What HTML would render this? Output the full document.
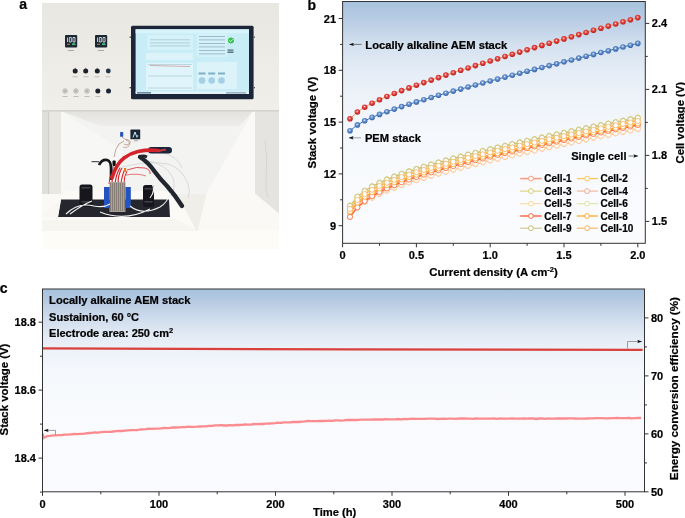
<!DOCTYPE html>
<html><head><meta charset="utf-8"><style>
html,body{margin:0;padding:0;background:#fff;}
body{width:685px;height:518px;overflow:hidden;font-family:"Liberation Sans",sans-serif;}
svg{display:block;will-change:transform;}
</style></head><body>
<svg width="685" height="518" viewBox="0 0 685 518">
<defs>
<linearGradient id="gb" x1="0" y1="0" x2="0" y2="1"><stop offset="0" stop-color="#a7c1dd"/><stop offset="0.05" stop-color="#b2c9e1"/><stop offset="0.1" stop-color="#bfd1e7"/><stop offset="0.18" stop-color="#d4e1ef"/><stop offset="0.28" stop-color="#e4ecf6"/><stop offset="0.4" stop-color="#eef3f9"/><stop offset="0.55" stop-color="#f5f8fc"/><stop offset="1" stop-color="#fbfcfe"/></linearGradient>
<linearGradient id="gc" x1="0" y1="0" x2="0" y2="1"><stop offset="0" stop-color="#a7c1dd"/><stop offset="0.05" stop-color="#b3c9e1"/><stop offset="0.1" stop-color="#c2d3e7"/><stop offset="0.18" stop-color="#d8e3f0"/><stop offset="0.25" stop-color="#e6edf6"/><stop offset="0.3" stop-color="#edf2f9"/><stop offset="0.4" stop-color="#f5f8fc"/><stop offset="0.6" stop-color="#f8fafd"/><stop offset="1" stop-color="#fafbfe"/></linearGradient>
<radialGradient id="sr" cx="0.45" cy="0.4" r="0.6"><stop offset="0" stop-color="#ffffff"/><stop offset="0.25" stop-color="#e86a66"/><stop offset="0.6" stop-color="#d8332f"/><stop offset="1" stop-color="#b82320"/></radialGradient>
<radialGradient id="sb" cx="0.45" cy="0.4" r="0.6"><stop offset="0" stop-color="#ffffff"/><stop offset="0.25" stop-color="#86a8d8"/><stop offset="0.6" stop-color="#4f7fc0"/><stop offset="1" stop-color="#3a66a8"/></radialGradient>
<marker id="ah" viewBox="0 0 10 7" refX="9.5" refY="3.5" markerUnits="userSpaceOnUse" markerWidth="4.8" markerHeight="3.4" orient="auto"><path d="M0,0 L10,3.5 L0,7 L2,3.5 z" fill="#111"/></marker>
<linearGradient id="gw" x1="0" y1="0" x2="0" y2="1"><stop offset="0" stop-color="#e9e7e1"/><stop offset="0.3" stop-color="#ebe9e4"/><stop offset="0.7" stop-color="#eeede8"/><stop offset="1" stop-color="#f0efea"/></linearGradient>
<linearGradient id="gce" x1="0" y1="0" x2="0" y2="1"><stop offset="0" stop-color="#e3e2df"/><stop offset="1" stop-color="#eeedeb"/></linearGradient>
<filter id="bl"><feGaussianBlur stdDeviation="0.6"/></filter>
<filter id="bl2"><feGaussianBlur stdDeviation="0.35"/></filter>
</defs>
<g id="photo">
<clipPath id="pc"><rect x="42" y="3" width="237" height="246"/></clipPath>
<g clip-path="url(#pc)"><g filter="url(#bl)"><rect x="38" y="0" width="245" height="112" fill="url(#gw)"/><rect x="38" y="111" width="245" height="142" fill="#f3f3f1"/><rect x="38" y="111" width="10" height="110" fill="#e0ded8"/><rect x="48" y="111" width="1.5" height="110" fill="#cfcdc8"/><rect x="49.5" y="111" width="11.5" height="85" fill="#e9e7e2"/><polygon points="61,111 253,111 240,126 100,126" fill="url(#gce)"/><polygon points="61,111 122,150 122,196 61,196" fill="#f7f7f5"/><polygon points="253,111 255,111 255,194 206,194" fill="#faf9f8"/><rect x="38" y="194" width="245" height="59" fill="#faf9f5"/><rect x="38" y="230" width="245" height="23" fill="#fdfcf7"/><polygon points="255,111 283,111 283,217 255,193.5" fill="#e6e4e1"/><path d="M265,140 q3,20 1,40 q-1,10 2,18" stroke="#c8c6c2" stroke-width="0.5" fill="none"/><polygon points="38,219 66,191 177,191 197,231 38,231" fill="#fbfaf7"/><polygon points="177,194 206.4,194 197.6,231 196.5,231" fill="#efeee9"/><polygon points="38,217 172,217 197,231 38,231" fill="#f6f5f0"/><polygon points="38,217 172,217 174,220 38,220" fill="#fbfaf6"/><polygon points="61,199.5 169,199.5 170,217 58,217" fill="#25282e"/><polygon points="38,219 61,199.5 58,217 38,217" fill="#f8f7f3"/><rect x="38" y="110" width="245" height="1.6" fill="#d5d3cf"/><rect x="65" y="35" width="12.2" height="12.6" rx="1" fill="#1c2535"/><path d="M67.5,37.5 l0,4.5 M69.3,37.5 l2,0 l0,4.5 l-2,0 z M73,37.5 l2,0 l0,4.5 l-2,0 z" stroke="#e8f4f0" stroke-width="0.8" fill="none"/><rect x="72" y="43.3" width="3.5" height="1.8" fill="#3fbf7a"/><rect x="67" y="43.8" width="3" height="0.8" fill="#c8b040"/><rect x="68" y="50" width="6" height="0.8" fill="#9a9894"/><rect x="95" y="35" width="12.2" height="12.6" rx="1" fill="#1c2535"/><path d="M97.5,37.5 l0,4.5 M99.3,37.5 l2,0 l0,4.5 l-2,0 z M103,37.5 l2,0 l0,4.5 l-2,0 z" stroke="#e8f4f0" stroke-width="0.8" fill="none"/><rect x="102" y="43.3" width="3.5" height="1.8" fill="#3fbf7a"/><rect x="97" y="43.8" width="3" height="0.8" fill="#c8b040"/><rect x="98" y="50" width="6" height="0.8" fill="#9a9894"/><circle cx="75.2" cy="71" r="2.5" fill="#1d222b"/><path d="M75.2,69 l0,-1.2" stroke="#555" stroke-width="0.6"/><circle cx="85.7" cy="71" r="2.5" fill="#1d222b"/><path d="M85.7,69 l0,-1.2" stroke="#555" stroke-width="0.6"/><circle cx="97.3" cy="71" r="2.5" fill="#1d222b"/><path d="M97.3,69 l0,-1.2" stroke="#555" stroke-width="0.6"/><circle cx="108.3" cy="71" r="2.4" fill="#22304a"/><circle cx="65.1" cy="91" r="2.3" fill="#d8d6d0" stroke="#9b9993" stroke-width="0.5"/><circle cx="65.1" cy="91" r="1" fill="#a8a6a0"/><circle cx="75.9" cy="91" r="2.3" fill="#d8d6d0" stroke="#9b9993" stroke-width="0.5"/><circle cx="75.9" cy="91" r="1" fill="#a8a6a0"/><circle cx="87" cy="91" r="2.3" fill="#d8d6d0" stroke="#9b9993" stroke-width="0.5"/><circle cx="87" cy="91" r="1" fill="#a8a6a0"/><circle cx="97.8" cy="91" r="2.5" fill="#1d222b"/><circle cx="108.5" cy="91" r="2.5" fill="#1c2538"/><rect x="72.5" y="76.5" width="5" height="0.7" fill="#aaa8a3"/><rect x="83.5" y="76.5" width="5" height="0.7" fill="#aaa8a3"/><rect x="94.5" y="76.5" width="5" height="0.7" fill="#aaa8a3"/><rect x="105.5" y="76.5" width="5" height="0.7" fill="#aaa8a3"/><rect x="62.5" y="96" width="5" height="0.7" fill="#aaa8a3"/><rect x="73.5" y="96" width="5" height="0.7" fill="#aaa8a3"/><rect x="84.5" y="96" width="5" height="0.7" fill="#aaa8a3"/><rect x="95.5" y="96" width="5" height="0.7" fill="#aaa8a3"/><rect x="131" y="25.8" width="122.6" height="73.5" rx="1.5" fill="#1d2637"/><rect x="135.6" y="29.3" width="113.4" height="63.5" fill="#c9edf7"/><rect x="135.6" y="29.3" width="113.4" height="4" fill="#d8f3f9"/><rect x="135.6" y="91.6" width="113.4" height="2.4" fill="#e4f3f8"/><rect x="137" y="92.2" width="14" height="1.3" fill="#4d6f88"/><rect x="226" y="92.2" width="20" height="1.3" fill="#8aa4b4"/><rect x="147" y="35" width="46" height="15" fill="#d6f2f9"/><rect x="150" y="39.5" width="40" height="0.7" fill="#9fbfcc"/><rect x="150" y="42.6" width="40" height="0.7" fill="#9fbfcc"/><rect x="150" y="45.6" width="40" height="0.7" fill="#9fbfcc"/><rect x="146" y="53" width="47" height="7" fill="#dcf3fa"/><rect x="146" y="63" width="47" height="27" fill="#e0f5fb"/><path d="M148,64.5 L192,64.5 M148,76 L192,76 M148,88 L192,88" stroke="#a2c3d0" stroke-width="0.6"/><path d="M150,65.5 Q170,66 190,66.5" stroke="#c98f88" stroke-width="0.7" fill="none"/><rect x="197" y="33" width="30" height="24" fill="#d3f1f8"/><rect x="199" y="36" width="26" height="0.8" fill="#8fb0bf"/><rect x="199" y="39.5" width="26" height="0.8" fill="#8fb0bf"/><rect x="199" y="43" width="26" height="0.8" fill="#8fb0bf"/><rect x="199" y="46.5" width="26" height="0.8" fill="#8fb0bf"/><rect x="199" y="50" width="26" height="0.8" fill="#8fb0bf"/><rect x="199" y="53.5" width="26" height="0.8" fill="#8fb0bf"/><circle cx="231" cy="40.4" r="3" fill="#39c24f"/><path d="M229.4,40.4 l1.2,1.2 l2.2,-2.3" stroke="#fff" stroke-width="0.8" fill="none"/><rect x="227.5" y="49.5" width="6" height="1.2" fill="#50697a"/><rect x="227.5" y="51.5" width="6" height="1.4" fill="#50697a"/><rect x="197" y="62" width="40" height="27" fill="#dcf3fa"/><circle cx="202" cy="80.5" r="3.3" fill="#a5cfe6"/><rect x="198.5" y="72.5" width="7" height="2" fill="#7fb0c8"/><circle cx="211.7" cy="80.5" r="3.3" fill="#a5cfe6"/><rect x="208.2" y="72.5" width="7" height="2" fill="#7fb0c8"/><circle cx="221.5" cy="80.5" r="3.3" fill="#a5cfe6"/><rect x="218.0" y="72.5" width="7" height="2" fill="#7fb0c8"/><rect x="129.5" y="36.5" width="1.5" height="1.3" fill="#555"/><rect x="129.5" y="87" width="1.5" height="1.3" fill="#555"/><rect x="253.5" y="36.5" width="1.5" height="1.3" fill="#555"/><rect x="253.5" y="87" width="1.5" height="1.3" fill="#555"/><rect x="130.4" y="129.6" width="9.8" height="9.7" rx="0.6" fill="#1f2738"/><path d="M133,137.5 l2,-5.5 l2,5.5" stroke="#dff" stroke-width="0.9" fill="none"/><circle cx="137.5" cy="136" r="0.9" fill="#4fd0c0"/><rect x="134" y="140.5" width="4" height="0.7" fill="#888"/><rect x="120.1" y="132" width="3.1" height="4.7" rx="0.5" fill="#2a55b8"/><path d="M122,137 q3,3 6,3 q4,1 1,4 q-3,2 -5,0 M124,141 q-6,2 -8,8 l-2,8" stroke="#a0705e" stroke-width="0.6" fill="none"/><path d="M126,140 q5,2 3,6 q-3,3 -6,1" stroke="#b06a5a" stroke-width="0.5" fill="none"/><path d="M118,168 q30,-8 50,-4 q14,4 20,20 q3,8 0,14 M145,160 q22,4 28,18 q3,10 -2,18 M160,152 q18,4 22,16" stroke="#cfd2d6" stroke-width="0.8" fill="none"/><rect x="148" y="147" width="24" height="6.6" rx="3.3" fill="#1b253a"/><path d="M151,150 l8,0" stroke="#b8404a" stroke-width="1"/><path d="M140,157 q8,5 15,15 q6,8 12,14 q8,9 15,20" stroke="#24272d" stroke-width="4.4" fill="none" stroke-linecap="round"/><path d="M139,157 q4,-2 8,0" stroke="#24272d" stroke-width="3" fill="none"/><path d="M91.5,161.7 l7.5,0" stroke="#333" stroke-width="1"/><path d="M99,165 q3,-6 8,-5 q4,1 4,8 l0,12" stroke="#16181c" stroke-width="2.6" fill="none"/><rect x="112.5" y="160.5" width="3.2" height="5.5" rx="1" fill="#111"/><path d="M113,166 l-0.5,12" stroke="#222" stroke-width="0.8"/><path d="M112,178 q4,-14 12,-20 q7,-5 14,-6.5 q10,-2 20,-1" stroke="#d3242c" stroke-width="3.6" fill="none" stroke-linecap="round"/><path d="M158,151 l8,-1.5" stroke="#c8343c" stroke-width="2"/><path d="M112,184 q0,-8 3,-14" stroke="#d4262b" stroke-width="1.2" fill="none"/><path d="M115,184 q1,-10 5,-16" stroke="#d4262b" stroke-width="1.2" fill="none"/><path d="M118,184 q0,-10 4,-16" stroke="#d4262b" stroke-width="1.2" fill="none"/><path d="M121,184 q1,-9 4,-15" stroke="#d4262b" stroke-width="1.1" fill="none"/><path d="M124,184 q0,-8 3,-13" stroke="#d4262b" stroke-width="1.0" fill="none"/><path d="M109,184 q0,-8 4,-12" stroke="#d4262b" stroke-width="1.0" fill="none"/><path d="M127,170 q10,-4 18,-2 q6,2 5,6" stroke="#d4262b" stroke-width="0.8" fill="none"/><path d="M126,175 q12,-2 20,1" stroke="#d4262b" stroke-width="0.6" fill="none"/><rect x="124" y="168" width="2.2" height="4" fill="#e8772a"/><rect x="79.5" y="184.5" width="13" height="22.5" rx="2.5" fill="#15171b"/><rect x="81.5" y="187" width="9" height="1.6" fill="#3d4046"/><rect x="81.5" y="201" width="9" height="1.6" fill="#3d4046"/><rect x="143" y="185" width="11" height="22" rx="2.5" fill="#15171b"/><rect x="144.5" y="188" width="8" height="1.6" fill="#3d4046"/><rect x="144.5" y="201" width="8" height="1.6" fill="#3d4046"/><rect x="109.5" y="182" width="16" height="30" fill="#a9a299"/><rect x="110" y="183" width="0.8" height="28" fill="#7d766e"/><rect x="112" y="183" width="0.8" height="28" fill="#7d766e"/><rect x="114" y="183" width="0.8" height="28" fill="#7d766e"/><rect x="116" y="183" width="0.8" height="28" fill="#7d766e"/><rect x="118" y="183" width="0.8" height="28" fill="#7d766e"/><rect x="120" y="183" width="0.8" height="28" fill="#7d766e"/><rect x="122" y="183" width="0.8" height="28" fill="#7d766e"/><rect x="124" y="183" width="0.8" height="28" fill="#7d766e"/><rect x="104" y="187" width="5.7" height="21" fill="#2453c0"/><rect x="125.5" y="187" width="5.3" height="21" fill="#2453c0"/><path d="M66,214 q12,-12 28,-8 q10,2 16,-2 M100,212 q25,10 50,-3 M130,206 q12,10 30,1 q8,-5 10,-14 M92,201 q-10,4 -22,13 M150,198 q6,-8 2,-14" stroke="#f2f2f0" stroke-width="1.1" fill="none"/></g></g>
</g>
<rect x="342.6" y="1.5" width="302.69999999999993" height="241.8" fill="url(#gb)"/>
<polyline points="350,212.9 357.4,203.9 364.7,198.1 372.1,193.7 379.5,190 386.9,186.7 394.3,183.8 401.6,181.1 409,178.6 416.4,176.2 423.8,174 431.2,171.8 438.5,169.7 445.9,167.7 453.3,165.7 460.7,163.8 468.1,161.9 475.4,160.1 482.8,158.3 490.2,156.5 497.6,154.8 505,153.1 512.3,151.4 519.7,149.7 527.1,148.1 534.5,146.5 541.9,144.8 549.2,143.3 556.6,141.7 564,140.1 571.4,138.5 578.8,137 586.1,135.5 593.5,133.9 600.9,132.4 608.3,130.9 615.7,129.4 623,128 630.4,126.5 637.8,125" fill="none" stroke="#fc9c80" stroke-width="1.6"/>
<circle cx="350" cy="212.9" r="2.55" fill="#fff" stroke="#fc9c80" stroke-width="0.85"/>
<circle cx="357.4" cy="203.9" r="2.55" fill="#fff" stroke="#fc9c80" stroke-width="0.85"/>
<circle cx="364.7" cy="198.1" r="2.55" fill="#fff" stroke="#fc9c80" stroke-width="0.85"/>
<circle cx="372.1" cy="193.7" r="2.55" fill="#fff" stroke="#fc9c80" stroke-width="0.85"/>
<circle cx="379.5" cy="190" r="2.55" fill="#fff" stroke="#fc9c80" stroke-width="0.85"/>
<circle cx="386.9" cy="186.7" r="2.55" fill="#fff" stroke="#fc9c80" stroke-width="0.85"/>
<circle cx="394.3" cy="183.8" r="2.55" fill="#fff" stroke="#fc9c80" stroke-width="0.85"/>
<circle cx="401.6" cy="181.1" r="2.55" fill="#fff" stroke="#fc9c80" stroke-width="0.85"/>
<circle cx="409" cy="178.6" r="2.55" fill="#fff" stroke="#fc9c80" stroke-width="0.85"/>
<circle cx="416.4" cy="176.2" r="2.55" fill="#fff" stroke="#fc9c80" stroke-width="0.85"/>
<circle cx="423.8" cy="174" r="2.55" fill="#fff" stroke="#fc9c80" stroke-width="0.85"/>
<circle cx="431.2" cy="171.8" r="2.55" fill="#fff" stroke="#fc9c80" stroke-width="0.85"/>
<circle cx="438.5" cy="169.7" r="2.55" fill="#fff" stroke="#fc9c80" stroke-width="0.85"/>
<circle cx="445.9" cy="167.7" r="2.55" fill="#fff" stroke="#fc9c80" stroke-width="0.85"/>
<circle cx="453.3" cy="165.7" r="2.55" fill="#fff" stroke="#fc9c80" stroke-width="0.85"/>
<circle cx="460.7" cy="163.8" r="2.55" fill="#fff" stroke="#fc9c80" stroke-width="0.85"/>
<circle cx="468.1" cy="161.9" r="2.55" fill="#fff" stroke="#fc9c80" stroke-width="0.85"/>
<circle cx="475.4" cy="160.1" r="2.55" fill="#fff" stroke="#fc9c80" stroke-width="0.85"/>
<circle cx="482.8" cy="158.3" r="2.55" fill="#fff" stroke="#fc9c80" stroke-width="0.85"/>
<circle cx="490.2" cy="156.5" r="2.55" fill="#fff" stroke="#fc9c80" stroke-width="0.85"/>
<circle cx="497.6" cy="154.8" r="2.55" fill="#fff" stroke="#fc9c80" stroke-width="0.85"/>
<circle cx="505" cy="153.1" r="2.55" fill="#fff" stroke="#fc9c80" stroke-width="0.85"/>
<circle cx="512.3" cy="151.4" r="2.55" fill="#fff" stroke="#fc9c80" stroke-width="0.85"/>
<circle cx="519.7" cy="149.7" r="2.55" fill="#fff" stroke="#fc9c80" stroke-width="0.85"/>
<circle cx="527.1" cy="148.1" r="2.55" fill="#fff" stroke="#fc9c80" stroke-width="0.85"/>
<circle cx="534.5" cy="146.5" r="2.55" fill="#fff" stroke="#fc9c80" stroke-width="0.85"/>
<circle cx="541.9" cy="144.8" r="2.55" fill="#fff" stroke="#fc9c80" stroke-width="0.85"/>
<circle cx="549.2" cy="143.3" r="2.55" fill="#fff" stroke="#fc9c80" stroke-width="0.85"/>
<circle cx="556.6" cy="141.7" r="2.55" fill="#fff" stroke="#fc9c80" stroke-width="0.85"/>
<circle cx="564" cy="140.1" r="2.55" fill="#fff" stroke="#fc9c80" stroke-width="0.85"/>
<circle cx="571.4" cy="138.5" r="2.55" fill="#fff" stroke="#fc9c80" stroke-width="0.85"/>
<circle cx="578.8" cy="137" r="2.55" fill="#fff" stroke="#fc9c80" stroke-width="0.85"/>
<circle cx="586.1" cy="135.5" r="2.55" fill="#fff" stroke="#fc9c80" stroke-width="0.85"/>
<circle cx="593.5" cy="133.9" r="2.55" fill="#fff" stroke="#fc9c80" stroke-width="0.85"/>
<circle cx="600.9" cy="132.4" r="2.55" fill="#fff" stroke="#fc9c80" stroke-width="0.85"/>
<circle cx="608.3" cy="130.9" r="2.55" fill="#fff" stroke="#fc9c80" stroke-width="0.85"/>
<circle cx="615.7" cy="129.4" r="2.55" fill="#fff" stroke="#fc9c80" stroke-width="0.85"/>
<circle cx="623" cy="128" r="2.55" fill="#fff" stroke="#fc9c80" stroke-width="0.85"/>
<circle cx="630.4" cy="126.5" r="2.55" fill="#fff" stroke="#fc9c80" stroke-width="0.85"/>
<circle cx="637.8" cy="125" r="2.55" fill="#fff" stroke="#fc9c80" stroke-width="0.85"/>
<polyline points="350,207.9 357.4,198.9 364.7,193.1 372.1,188.7 379.5,185 386.9,181.7 394.3,178.8 401.6,176.1 409,173.6 416.4,171.2 423.8,169 431.2,166.8 438.5,164.7 445.9,162.7 453.3,160.7 460.7,158.8 468.1,156.9 475.4,155.1 482.8,153.3 490.2,151.5 497.6,149.8 505,148.1 512.3,146.4 519.7,144.7 527.1,143.1 534.5,141.5 541.9,139.8 549.2,138.3 556.6,136.7 564,135.1 571.4,133.5 578.8,132 586.1,130.5 593.5,128.9 600.9,127.4 608.3,125.9 615.7,124.4 623,123 630.4,121.5 637.8,120" fill="none" stroke="#fdc659" stroke-width="1.3"/>
<circle cx="350" cy="207.9" r="2.55" fill="#fff" stroke="#fdc659" stroke-width="0.85"/>
<circle cx="357.4" cy="198.9" r="2.55" fill="#fff" stroke="#fdc659" stroke-width="0.85"/>
<circle cx="364.7" cy="193.1" r="2.55" fill="#fff" stroke="#fdc659" stroke-width="0.85"/>
<circle cx="372.1" cy="188.7" r="2.55" fill="#fff" stroke="#fdc659" stroke-width="0.85"/>
<circle cx="379.5" cy="185" r="2.55" fill="#fff" stroke="#fdc659" stroke-width="0.85"/>
<circle cx="386.9" cy="181.7" r="2.55" fill="#fff" stroke="#fdc659" stroke-width="0.85"/>
<circle cx="394.3" cy="178.8" r="2.55" fill="#fff" stroke="#fdc659" stroke-width="0.85"/>
<circle cx="401.6" cy="176.1" r="2.55" fill="#fff" stroke="#fdc659" stroke-width="0.85"/>
<circle cx="409" cy="173.6" r="2.55" fill="#fff" stroke="#fdc659" stroke-width="0.85"/>
<circle cx="416.4" cy="171.2" r="2.55" fill="#fff" stroke="#fdc659" stroke-width="0.85"/>
<circle cx="423.8" cy="169" r="2.55" fill="#fff" stroke="#fdc659" stroke-width="0.85"/>
<circle cx="431.2" cy="166.8" r="2.55" fill="#fff" stroke="#fdc659" stroke-width="0.85"/>
<circle cx="438.5" cy="164.7" r="2.55" fill="#fff" stroke="#fdc659" stroke-width="0.85"/>
<circle cx="445.9" cy="162.7" r="2.55" fill="#fff" stroke="#fdc659" stroke-width="0.85"/>
<circle cx="453.3" cy="160.7" r="2.55" fill="#fff" stroke="#fdc659" stroke-width="0.85"/>
<circle cx="460.7" cy="158.8" r="2.55" fill="#fff" stroke="#fdc659" stroke-width="0.85"/>
<circle cx="468.1" cy="156.9" r="2.55" fill="#fff" stroke="#fdc659" stroke-width="0.85"/>
<circle cx="475.4" cy="155.1" r="2.55" fill="#fff" stroke="#fdc659" stroke-width="0.85"/>
<circle cx="482.8" cy="153.3" r="2.55" fill="#fff" stroke="#fdc659" stroke-width="0.85"/>
<circle cx="490.2" cy="151.5" r="2.55" fill="#fff" stroke="#fdc659" stroke-width="0.85"/>
<circle cx="497.6" cy="149.8" r="2.55" fill="#fff" stroke="#fdc659" stroke-width="0.85"/>
<circle cx="505" cy="148.1" r="2.55" fill="#fff" stroke="#fdc659" stroke-width="0.85"/>
<circle cx="512.3" cy="146.4" r="2.55" fill="#fff" stroke="#fdc659" stroke-width="0.85"/>
<circle cx="519.7" cy="144.7" r="2.55" fill="#fff" stroke="#fdc659" stroke-width="0.85"/>
<circle cx="527.1" cy="143.1" r="2.55" fill="#fff" stroke="#fdc659" stroke-width="0.85"/>
<circle cx="534.5" cy="141.5" r="2.55" fill="#fff" stroke="#fdc659" stroke-width="0.85"/>
<circle cx="541.9" cy="139.8" r="2.55" fill="#fff" stroke="#fdc659" stroke-width="0.85"/>
<circle cx="549.2" cy="138.3" r="2.55" fill="#fff" stroke="#fdc659" stroke-width="0.85"/>
<circle cx="556.6" cy="136.7" r="2.55" fill="#fff" stroke="#fdc659" stroke-width="0.85"/>
<circle cx="564" cy="135.1" r="2.55" fill="#fff" stroke="#fdc659" stroke-width="0.85"/>
<circle cx="571.4" cy="133.5" r="2.55" fill="#fff" stroke="#fdc659" stroke-width="0.85"/>
<circle cx="578.8" cy="132" r="2.55" fill="#fff" stroke="#fdc659" stroke-width="0.85"/>
<circle cx="586.1" cy="130.5" r="2.55" fill="#fff" stroke="#fdc659" stroke-width="0.85"/>
<circle cx="593.5" cy="128.9" r="2.55" fill="#fff" stroke="#fdc659" stroke-width="0.85"/>
<circle cx="600.9" cy="127.4" r="2.55" fill="#fff" stroke="#fdc659" stroke-width="0.85"/>
<circle cx="608.3" cy="125.9" r="2.55" fill="#fff" stroke="#fdc659" stroke-width="0.85"/>
<circle cx="615.7" cy="124.4" r="2.55" fill="#fff" stroke="#fdc659" stroke-width="0.85"/>
<circle cx="623" cy="123" r="2.55" fill="#fff" stroke="#fdc659" stroke-width="0.85"/>
<circle cx="630.4" cy="121.5" r="2.55" fill="#fff" stroke="#fdc659" stroke-width="0.85"/>
<circle cx="637.8" cy="120" r="2.55" fill="#fff" stroke="#fdc659" stroke-width="0.85"/>
<polyline points="350,205.4 357.4,196.4 364.7,190.6 372.1,186.2 379.5,182.5 386.9,179.2 394.3,176.3 401.6,173.6 409,171.1 416.4,168.7 423.8,166.5 431.2,164.3 438.5,162.2 445.9,160.2 453.3,158.2 460.7,156.3 468.1,154.4 475.4,152.6 482.8,150.8 490.2,149 497.6,147.3 505,145.6 512.3,143.9 519.7,142.2 527.1,140.6 534.5,139 541.9,137.3 549.2,135.8 556.6,134.2 564,132.6 571.4,131 578.8,129.5 586.1,128 593.5,126.4 600.9,124.9 608.3,123.4 615.7,121.9 623,120.5 630.4,119 637.8,117.5" fill="none" stroke="#d4cf6b" stroke-width="1.0"/>
<circle cx="350" cy="205.4" r="2.55" fill="#fff" stroke="#d4cf6b" stroke-width="0.85"/>
<circle cx="357.4" cy="196.4" r="2.55" fill="#fff" stroke="#d4cf6b" stroke-width="0.85"/>
<circle cx="364.7" cy="190.6" r="2.55" fill="#fff" stroke="#d4cf6b" stroke-width="0.85"/>
<circle cx="372.1" cy="186.2" r="2.55" fill="#fff" stroke="#d4cf6b" stroke-width="0.85"/>
<circle cx="379.5" cy="182.5" r="2.55" fill="#fff" stroke="#d4cf6b" stroke-width="0.85"/>
<circle cx="386.9" cy="179.2" r="2.55" fill="#fff" stroke="#d4cf6b" stroke-width="0.85"/>
<circle cx="394.3" cy="176.3" r="2.55" fill="#fff" stroke="#d4cf6b" stroke-width="0.85"/>
<circle cx="401.6" cy="173.6" r="2.55" fill="#fff" stroke="#d4cf6b" stroke-width="0.85"/>
<circle cx="409" cy="171.1" r="2.55" fill="#fff" stroke="#d4cf6b" stroke-width="0.85"/>
<circle cx="416.4" cy="168.7" r="2.55" fill="#fff" stroke="#d4cf6b" stroke-width="0.85"/>
<circle cx="423.8" cy="166.5" r="2.55" fill="#fff" stroke="#d4cf6b" stroke-width="0.85"/>
<circle cx="431.2" cy="164.3" r="2.55" fill="#fff" stroke="#d4cf6b" stroke-width="0.85"/>
<circle cx="438.5" cy="162.2" r="2.55" fill="#fff" stroke="#d4cf6b" stroke-width="0.85"/>
<circle cx="445.9" cy="160.2" r="2.55" fill="#fff" stroke="#d4cf6b" stroke-width="0.85"/>
<circle cx="453.3" cy="158.2" r="2.55" fill="#fff" stroke="#d4cf6b" stroke-width="0.85"/>
<circle cx="460.7" cy="156.3" r="2.55" fill="#fff" stroke="#d4cf6b" stroke-width="0.85"/>
<circle cx="468.1" cy="154.4" r="2.55" fill="#fff" stroke="#d4cf6b" stroke-width="0.85"/>
<circle cx="475.4" cy="152.6" r="2.55" fill="#fff" stroke="#d4cf6b" stroke-width="0.85"/>
<circle cx="482.8" cy="150.8" r="2.55" fill="#fff" stroke="#d4cf6b" stroke-width="0.85"/>
<circle cx="490.2" cy="149" r="2.55" fill="#fff" stroke="#d4cf6b" stroke-width="0.85"/>
<circle cx="497.6" cy="147.3" r="2.55" fill="#fff" stroke="#d4cf6b" stroke-width="0.85"/>
<circle cx="505" cy="145.6" r="2.55" fill="#fff" stroke="#d4cf6b" stroke-width="0.85"/>
<circle cx="512.3" cy="143.9" r="2.55" fill="#fff" stroke="#d4cf6b" stroke-width="0.85"/>
<circle cx="519.7" cy="142.2" r="2.55" fill="#fff" stroke="#d4cf6b" stroke-width="0.85"/>
<circle cx="527.1" cy="140.6" r="2.55" fill="#fff" stroke="#d4cf6b" stroke-width="0.85"/>
<circle cx="534.5" cy="139" r="2.55" fill="#fff" stroke="#d4cf6b" stroke-width="0.85"/>
<circle cx="541.9" cy="137.3" r="2.55" fill="#fff" stroke="#d4cf6b" stroke-width="0.85"/>
<circle cx="549.2" cy="135.8" r="2.55" fill="#fff" stroke="#d4cf6b" stroke-width="0.85"/>
<circle cx="556.6" cy="134.2" r="2.55" fill="#fff" stroke="#d4cf6b" stroke-width="0.85"/>
<circle cx="564" cy="132.6" r="2.55" fill="#fff" stroke="#d4cf6b" stroke-width="0.85"/>
<circle cx="571.4" cy="131" r="2.55" fill="#fff" stroke="#d4cf6b" stroke-width="0.85"/>
<circle cx="578.8" cy="129.5" r="2.55" fill="#fff" stroke="#d4cf6b" stroke-width="0.85"/>
<circle cx="586.1" cy="128" r="2.55" fill="#fff" stroke="#d4cf6b" stroke-width="0.85"/>
<circle cx="593.5" cy="126.4" r="2.55" fill="#fff" stroke="#d4cf6b" stroke-width="0.85"/>
<circle cx="600.9" cy="124.9" r="2.55" fill="#fff" stroke="#d4cf6b" stroke-width="0.85"/>
<circle cx="608.3" cy="123.4" r="2.55" fill="#fff" stroke="#d4cf6b" stroke-width="0.85"/>
<circle cx="615.7" cy="121.9" r="2.55" fill="#fff" stroke="#d4cf6b" stroke-width="0.85"/>
<circle cx="623" cy="120.5" r="2.55" fill="#fff" stroke="#d4cf6b" stroke-width="0.85"/>
<circle cx="630.4" cy="119" r="2.55" fill="#fff" stroke="#d4cf6b" stroke-width="0.85"/>
<circle cx="637.8" cy="117.5" r="2.55" fill="#fff" stroke="#d4cf6b" stroke-width="0.85"/>
<polyline points="350,216.9 357.4,207.9 364.7,202.1 372.1,197.7 379.5,194 386.9,190.7 394.3,187.8 401.6,185.1 409,182.6 416.4,180.2 423.8,178 431.2,175.8 438.5,173.7 445.9,171.7 453.3,169.7 460.7,167.8 468.1,165.9 475.4,164.1 482.8,162.3 490.2,160.5 497.6,158.8 505,157.1 512.3,155.4 519.7,153.7 527.1,152.1 534.5,150.5 541.9,148.8 549.2,147.3 556.6,145.7 564,144.1 571.4,142.5 578.8,141 586.1,139.5 593.5,137.9 600.9,136.4 608.3,134.9 615.7,133.4 623,132 630.4,130.5 637.8,129" fill="none" stroke="#f5ab8c" stroke-width="1.0"/>
<circle cx="350" cy="216.9" r="2.55" fill="#fff" stroke="#f5ab8c" stroke-width="0.85"/>
<circle cx="357.4" cy="207.9" r="2.55" fill="#fff" stroke="#f5ab8c" stroke-width="0.85"/>
<circle cx="364.7" cy="202.1" r="2.55" fill="#fff" stroke="#f5ab8c" stroke-width="0.85"/>
<circle cx="372.1" cy="197.7" r="2.55" fill="#fff" stroke="#f5ab8c" stroke-width="0.85"/>
<circle cx="379.5" cy="194" r="2.55" fill="#fff" stroke="#f5ab8c" stroke-width="0.85"/>
<circle cx="386.9" cy="190.7" r="2.55" fill="#fff" stroke="#f5ab8c" stroke-width="0.85"/>
<circle cx="394.3" cy="187.8" r="2.55" fill="#fff" stroke="#f5ab8c" stroke-width="0.85"/>
<circle cx="401.6" cy="185.1" r="2.55" fill="#fff" stroke="#f5ab8c" stroke-width="0.85"/>
<circle cx="409" cy="182.6" r="2.55" fill="#fff" stroke="#f5ab8c" stroke-width="0.85"/>
<circle cx="416.4" cy="180.2" r="2.55" fill="#fff" stroke="#f5ab8c" stroke-width="0.85"/>
<circle cx="423.8" cy="178" r="2.55" fill="#fff" stroke="#f5ab8c" stroke-width="0.85"/>
<circle cx="431.2" cy="175.8" r="2.55" fill="#fff" stroke="#f5ab8c" stroke-width="0.85"/>
<circle cx="438.5" cy="173.7" r="2.55" fill="#fff" stroke="#f5ab8c" stroke-width="0.85"/>
<circle cx="445.9" cy="171.7" r="2.55" fill="#fff" stroke="#f5ab8c" stroke-width="0.85"/>
<circle cx="453.3" cy="169.7" r="2.55" fill="#fff" stroke="#f5ab8c" stroke-width="0.85"/>
<circle cx="460.7" cy="167.8" r="2.55" fill="#fff" stroke="#f5ab8c" stroke-width="0.85"/>
<circle cx="468.1" cy="165.9" r="2.55" fill="#fff" stroke="#f5ab8c" stroke-width="0.85"/>
<circle cx="475.4" cy="164.1" r="2.55" fill="#fff" stroke="#f5ab8c" stroke-width="0.85"/>
<circle cx="482.8" cy="162.3" r="2.55" fill="#fff" stroke="#f5ab8c" stroke-width="0.85"/>
<circle cx="490.2" cy="160.5" r="2.55" fill="#fff" stroke="#f5ab8c" stroke-width="0.85"/>
<circle cx="497.6" cy="158.8" r="2.55" fill="#fff" stroke="#f5ab8c" stroke-width="0.85"/>
<circle cx="505" cy="157.1" r="2.55" fill="#fff" stroke="#f5ab8c" stroke-width="0.85"/>
<circle cx="512.3" cy="155.4" r="2.55" fill="#fff" stroke="#f5ab8c" stroke-width="0.85"/>
<circle cx="519.7" cy="153.7" r="2.55" fill="#fff" stroke="#f5ab8c" stroke-width="0.85"/>
<circle cx="527.1" cy="152.1" r="2.55" fill="#fff" stroke="#f5ab8c" stroke-width="0.85"/>
<circle cx="534.5" cy="150.5" r="2.55" fill="#fff" stroke="#f5ab8c" stroke-width="0.85"/>
<circle cx="541.9" cy="148.8" r="2.55" fill="#fff" stroke="#f5ab8c" stroke-width="0.85"/>
<circle cx="549.2" cy="147.3" r="2.55" fill="#fff" stroke="#f5ab8c" stroke-width="0.85"/>
<circle cx="556.6" cy="145.7" r="2.55" fill="#fff" stroke="#f5ab8c" stroke-width="0.85"/>
<circle cx="564" cy="144.1" r="2.55" fill="#fff" stroke="#f5ab8c" stroke-width="0.85"/>
<circle cx="571.4" cy="142.5" r="2.55" fill="#fff" stroke="#f5ab8c" stroke-width="0.85"/>
<circle cx="578.8" cy="141" r="2.55" fill="#fff" stroke="#f5ab8c" stroke-width="0.85"/>
<circle cx="586.1" cy="139.5" r="2.55" fill="#fff" stroke="#f5ab8c" stroke-width="0.85"/>
<circle cx="593.5" cy="137.9" r="2.55" fill="#fff" stroke="#f5ab8c" stroke-width="0.85"/>
<circle cx="600.9" cy="136.4" r="2.55" fill="#fff" stroke="#f5ab8c" stroke-width="0.85"/>
<circle cx="608.3" cy="134.9" r="2.55" fill="#fff" stroke="#f5ab8c" stroke-width="0.85"/>
<circle cx="615.7" cy="133.4" r="2.55" fill="#fff" stroke="#f5ab8c" stroke-width="0.85"/>
<circle cx="623" cy="132" r="2.55" fill="#fff" stroke="#f5ab8c" stroke-width="0.85"/>
<circle cx="630.4" cy="130.5" r="2.55" fill="#fff" stroke="#f5ab8c" stroke-width="0.85"/>
<circle cx="637.8" cy="129" r="2.55" fill="#fff" stroke="#f5ab8c" stroke-width="0.85"/>
<polyline points="350,216.4 357.4,207.4 364.7,201.6 372.1,197.2 379.5,193.5 386.9,190.2 394.3,187.3 401.6,184.6 409,182.1 416.4,179.7 423.8,177.5 431.2,175.3 438.5,173.2 445.9,171.2 453.3,169.2 460.7,167.3 468.1,165.4 475.4,163.6 482.8,161.8 490.2,160 497.6,158.3 505,156.6 512.3,154.9 519.7,153.2 527.1,151.6 534.5,150 541.9,148.3 549.2,146.8 556.6,145.2 564,143.6 571.4,142 578.8,140.5 586.1,139 593.5,137.4 600.9,135.9 608.3,134.4 615.7,132.9 623,131.5 630.4,130 637.8,128.5" fill="none" stroke="#fdd89d" stroke-width="1.1"/>
<circle cx="350" cy="216.4" r="2.55" fill="#fff" stroke="#fdd89d" stroke-width="0.85"/>
<circle cx="357.4" cy="207.4" r="2.55" fill="#fff" stroke="#fdd89d" stroke-width="0.85"/>
<circle cx="364.7" cy="201.6" r="2.55" fill="#fff" stroke="#fdd89d" stroke-width="0.85"/>
<circle cx="372.1" cy="197.2" r="2.55" fill="#fff" stroke="#fdd89d" stroke-width="0.85"/>
<circle cx="379.5" cy="193.5" r="2.55" fill="#fff" stroke="#fdd89d" stroke-width="0.85"/>
<circle cx="386.9" cy="190.2" r="2.55" fill="#fff" stroke="#fdd89d" stroke-width="0.85"/>
<circle cx="394.3" cy="187.3" r="2.55" fill="#fff" stroke="#fdd89d" stroke-width="0.85"/>
<circle cx="401.6" cy="184.6" r="2.55" fill="#fff" stroke="#fdd89d" stroke-width="0.85"/>
<circle cx="409" cy="182.1" r="2.55" fill="#fff" stroke="#fdd89d" stroke-width="0.85"/>
<circle cx="416.4" cy="179.7" r="2.55" fill="#fff" stroke="#fdd89d" stroke-width="0.85"/>
<circle cx="423.8" cy="177.5" r="2.55" fill="#fff" stroke="#fdd89d" stroke-width="0.85"/>
<circle cx="431.2" cy="175.3" r="2.55" fill="#fff" stroke="#fdd89d" stroke-width="0.85"/>
<circle cx="438.5" cy="173.2" r="2.55" fill="#fff" stroke="#fdd89d" stroke-width="0.85"/>
<circle cx="445.9" cy="171.2" r="2.55" fill="#fff" stroke="#fdd89d" stroke-width="0.85"/>
<circle cx="453.3" cy="169.2" r="2.55" fill="#fff" stroke="#fdd89d" stroke-width="0.85"/>
<circle cx="460.7" cy="167.3" r="2.55" fill="#fff" stroke="#fdd89d" stroke-width="0.85"/>
<circle cx="468.1" cy="165.4" r="2.55" fill="#fff" stroke="#fdd89d" stroke-width="0.85"/>
<circle cx="475.4" cy="163.6" r="2.55" fill="#fff" stroke="#fdd89d" stroke-width="0.85"/>
<circle cx="482.8" cy="161.8" r="2.55" fill="#fff" stroke="#fdd89d" stroke-width="0.85"/>
<circle cx="490.2" cy="160" r="2.55" fill="#fff" stroke="#fdd89d" stroke-width="0.85"/>
<circle cx="497.6" cy="158.3" r="2.55" fill="#fff" stroke="#fdd89d" stroke-width="0.85"/>
<circle cx="505" cy="156.6" r="2.55" fill="#fff" stroke="#fdd89d" stroke-width="0.85"/>
<circle cx="512.3" cy="154.9" r="2.55" fill="#fff" stroke="#fdd89d" stroke-width="0.85"/>
<circle cx="519.7" cy="153.2" r="2.55" fill="#fff" stroke="#fdd89d" stroke-width="0.85"/>
<circle cx="527.1" cy="151.6" r="2.55" fill="#fff" stroke="#fdd89d" stroke-width="0.85"/>
<circle cx="534.5" cy="150" r="2.55" fill="#fff" stroke="#fdd89d" stroke-width="0.85"/>
<circle cx="541.9" cy="148.3" r="2.55" fill="#fff" stroke="#fdd89d" stroke-width="0.85"/>
<circle cx="549.2" cy="146.8" r="2.55" fill="#fff" stroke="#fdd89d" stroke-width="0.85"/>
<circle cx="556.6" cy="145.2" r="2.55" fill="#fff" stroke="#fdd89d" stroke-width="0.85"/>
<circle cx="564" cy="143.6" r="2.55" fill="#fff" stroke="#fdd89d" stroke-width="0.85"/>
<circle cx="571.4" cy="142" r="2.55" fill="#fff" stroke="#fdd89d" stroke-width="0.85"/>
<circle cx="578.8" cy="140.5" r="2.55" fill="#fff" stroke="#fdd89d" stroke-width="0.85"/>
<circle cx="586.1" cy="139" r="2.55" fill="#fff" stroke="#fdd89d" stroke-width="0.85"/>
<circle cx="593.5" cy="137.4" r="2.55" fill="#fff" stroke="#fdd89d" stroke-width="0.85"/>
<circle cx="600.9" cy="135.9" r="2.55" fill="#fff" stroke="#fdd89d" stroke-width="0.85"/>
<circle cx="608.3" cy="134.4" r="2.55" fill="#fff" stroke="#fdd89d" stroke-width="0.85"/>
<circle cx="615.7" cy="132.9" r="2.55" fill="#fff" stroke="#fdd89d" stroke-width="0.85"/>
<circle cx="623" cy="131.5" r="2.55" fill="#fff" stroke="#fdd89d" stroke-width="0.85"/>
<circle cx="630.4" cy="130" r="2.55" fill="#fff" stroke="#fdd89d" stroke-width="0.85"/>
<circle cx="637.8" cy="128.5" r="2.55" fill="#fff" stroke="#fdd89d" stroke-width="0.85"/>
<polyline points="350,206.9 357.4,197.9 364.7,192.1 372.1,187.7 379.5,184 386.9,180.7 394.3,177.8 401.6,175.1 409,172.6 416.4,170.2 423.8,168 431.2,165.8 438.5,163.7 445.9,161.7 453.3,159.7 460.7,157.8 468.1,155.9 475.4,154.1 482.8,152.3 490.2,150.5 497.6,148.8 505,147.1 512.3,145.4 519.7,143.7 527.1,142.1 534.5,140.5 541.9,138.8 549.2,137.3 556.6,135.7 564,134.1 571.4,132.5 578.8,131 586.1,129.5 593.5,127.9 600.9,126.4 608.3,124.9 615.7,123.4 623,122 630.4,120.5 637.8,119" fill="none" stroke="#dfe4a6" stroke-width="1.1"/>
<circle cx="350" cy="206.9" r="2.55" fill="#fff" stroke="#dfe4a6" stroke-width="0.85"/>
<circle cx="357.4" cy="197.9" r="2.55" fill="#fff" stroke="#dfe4a6" stroke-width="0.85"/>
<circle cx="364.7" cy="192.1" r="2.55" fill="#fff" stroke="#dfe4a6" stroke-width="0.85"/>
<circle cx="372.1" cy="187.7" r="2.55" fill="#fff" stroke="#dfe4a6" stroke-width="0.85"/>
<circle cx="379.5" cy="184" r="2.55" fill="#fff" stroke="#dfe4a6" stroke-width="0.85"/>
<circle cx="386.9" cy="180.7" r="2.55" fill="#fff" stroke="#dfe4a6" stroke-width="0.85"/>
<circle cx="394.3" cy="177.8" r="2.55" fill="#fff" stroke="#dfe4a6" stroke-width="0.85"/>
<circle cx="401.6" cy="175.1" r="2.55" fill="#fff" stroke="#dfe4a6" stroke-width="0.85"/>
<circle cx="409" cy="172.6" r="2.55" fill="#fff" stroke="#dfe4a6" stroke-width="0.85"/>
<circle cx="416.4" cy="170.2" r="2.55" fill="#fff" stroke="#dfe4a6" stroke-width="0.85"/>
<circle cx="423.8" cy="168" r="2.55" fill="#fff" stroke="#dfe4a6" stroke-width="0.85"/>
<circle cx="431.2" cy="165.8" r="2.55" fill="#fff" stroke="#dfe4a6" stroke-width="0.85"/>
<circle cx="438.5" cy="163.7" r="2.55" fill="#fff" stroke="#dfe4a6" stroke-width="0.85"/>
<circle cx="445.9" cy="161.7" r="2.55" fill="#fff" stroke="#dfe4a6" stroke-width="0.85"/>
<circle cx="453.3" cy="159.7" r="2.55" fill="#fff" stroke="#dfe4a6" stroke-width="0.85"/>
<circle cx="460.7" cy="157.8" r="2.55" fill="#fff" stroke="#dfe4a6" stroke-width="0.85"/>
<circle cx="468.1" cy="155.9" r="2.55" fill="#fff" stroke="#dfe4a6" stroke-width="0.85"/>
<circle cx="475.4" cy="154.1" r="2.55" fill="#fff" stroke="#dfe4a6" stroke-width="0.85"/>
<circle cx="482.8" cy="152.3" r="2.55" fill="#fff" stroke="#dfe4a6" stroke-width="0.85"/>
<circle cx="490.2" cy="150.5" r="2.55" fill="#fff" stroke="#dfe4a6" stroke-width="0.85"/>
<circle cx="497.6" cy="148.8" r="2.55" fill="#fff" stroke="#dfe4a6" stroke-width="0.85"/>
<circle cx="505" cy="147.1" r="2.55" fill="#fff" stroke="#dfe4a6" stroke-width="0.85"/>
<circle cx="512.3" cy="145.4" r="2.55" fill="#fff" stroke="#dfe4a6" stroke-width="0.85"/>
<circle cx="519.7" cy="143.7" r="2.55" fill="#fff" stroke="#dfe4a6" stroke-width="0.85"/>
<circle cx="527.1" cy="142.1" r="2.55" fill="#fff" stroke="#dfe4a6" stroke-width="0.85"/>
<circle cx="534.5" cy="140.5" r="2.55" fill="#fff" stroke="#dfe4a6" stroke-width="0.85"/>
<circle cx="541.9" cy="138.8" r="2.55" fill="#fff" stroke="#dfe4a6" stroke-width="0.85"/>
<circle cx="549.2" cy="137.3" r="2.55" fill="#fff" stroke="#dfe4a6" stroke-width="0.85"/>
<circle cx="556.6" cy="135.7" r="2.55" fill="#fff" stroke="#dfe4a6" stroke-width="0.85"/>
<circle cx="564" cy="134.1" r="2.55" fill="#fff" stroke="#dfe4a6" stroke-width="0.85"/>
<circle cx="571.4" cy="132.5" r="2.55" fill="#fff" stroke="#dfe4a6" stroke-width="0.85"/>
<circle cx="578.8" cy="131" r="2.55" fill="#fff" stroke="#dfe4a6" stroke-width="0.85"/>
<circle cx="586.1" cy="129.5" r="2.55" fill="#fff" stroke="#dfe4a6" stroke-width="0.85"/>
<circle cx="593.5" cy="127.9" r="2.55" fill="#fff" stroke="#dfe4a6" stroke-width="0.85"/>
<circle cx="600.9" cy="126.4" r="2.55" fill="#fff" stroke="#dfe4a6" stroke-width="0.85"/>
<circle cx="608.3" cy="124.9" r="2.55" fill="#fff" stroke="#dfe4a6" stroke-width="0.85"/>
<circle cx="615.7" cy="123.4" r="2.55" fill="#fff" stroke="#dfe4a6" stroke-width="0.85"/>
<circle cx="623" cy="122" r="2.55" fill="#fff" stroke="#dfe4a6" stroke-width="0.85"/>
<circle cx="630.4" cy="120.5" r="2.55" fill="#fff" stroke="#dfe4a6" stroke-width="0.85"/>
<circle cx="637.8" cy="119" r="2.55" fill="#fff" stroke="#dfe4a6" stroke-width="0.85"/>
<polyline points="350,216.9 357.4,207.2 364.7,201 372.1,196.1 379.5,192 386.9,188.5 394.3,185.3 401.6,182.3 409,179.6 416.4,177.1 423.8,174.7 431.2,172.4 438.5,170.2 445.9,168.1 453.3,166.1 460.7,164.1 468.1,162.2 475.4,160.3 482.8,158.5 490.2,156.7 497.6,154.9 505,153.2 512.3,151.5 519.7,149.8 527.1,148.2 534.5,146.5 541.9,144.9 549.2,143.3 556.6,141.7 564,140.1 571.4,138.6 578.8,137 586.1,135.5 593.5,134 600.9,132.4 608.3,130.9 615.7,129.4 623,128 630.4,126.5 637.8,125" fill="none" stroke="#fb6a44" stroke-width="1.5"/>
<circle cx="350" cy="216.9" r="2.55" fill="#fff" stroke="#fb6a44" stroke-width="0.85"/>
<circle cx="357.4" cy="207.2" r="2.55" fill="#fff" stroke="#fb6a44" stroke-width="0.85"/>
<circle cx="364.7" cy="201" r="2.55" fill="#fff" stroke="#fb6a44" stroke-width="0.85"/>
<circle cx="372.1" cy="196.1" r="2.55" fill="#fff" stroke="#fb6a44" stroke-width="0.85"/>
<circle cx="379.5" cy="192" r="2.55" fill="#fff" stroke="#fb6a44" stroke-width="0.85"/>
<circle cx="386.9" cy="188.5" r="2.55" fill="#fff" stroke="#fb6a44" stroke-width="0.85"/>
<circle cx="394.3" cy="185.3" r="2.55" fill="#fff" stroke="#fb6a44" stroke-width="0.85"/>
<circle cx="401.6" cy="182.3" r="2.55" fill="#fff" stroke="#fb6a44" stroke-width="0.85"/>
<circle cx="409" cy="179.6" r="2.55" fill="#fff" stroke="#fb6a44" stroke-width="0.85"/>
<circle cx="416.4" cy="177.1" r="2.55" fill="#fff" stroke="#fb6a44" stroke-width="0.85"/>
<circle cx="423.8" cy="174.7" r="2.55" fill="#fff" stroke="#fb6a44" stroke-width="0.85"/>
<circle cx="431.2" cy="172.4" r="2.55" fill="#fff" stroke="#fb6a44" stroke-width="0.85"/>
<circle cx="438.5" cy="170.2" r="2.55" fill="#fff" stroke="#fb6a44" stroke-width="0.85"/>
<circle cx="445.9" cy="168.1" r="2.55" fill="#fff" stroke="#fb6a44" stroke-width="0.85"/>
<circle cx="453.3" cy="166.1" r="2.55" fill="#fff" stroke="#fb6a44" stroke-width="0.85"/>
<circle cx="460.7" cy="164.1" r="2.55" fill="#fff" stroke="#fb6a44" stroke-width="0.85"/>
<circle cx="468.1" cy="162.2" r="2.55" fill="#fff" stroke="#fb6a44" stroke-width="0.85"/>
<circle cx="475.4" cy="160.3" r="2.55" fill="#fff" stroke="#fb6a44" stroke-width="0.85"/>
<circle cx="482.8" cy="158.5" r="2.55" fill="#fff" stroke="#fb6a44" stroke-width="0.85"/>
<circle cx="490.2" cy="156.7" r="2.55" fill="#fff" stroke="#fb6a44" stroke-width="0.85"/>
<circle cx="497.6" cy="154.9" r="2.55" fill="#fff" stroke="#fb6a44" stroke-width="0.85"/>
<circle cx="505" cy="153.2" r="2.55" fill="#fff" stroke="#fb6a44" stroke-width="0.85"/>
<circle cx="512.3" cy="151.5" r="2.55" fill="#fff" stroke="#fb6a44" stroke-width="0.85"/>
<circle cx="519.7" cy="149.8" r="2.55" fill="#fff" stroke="#fb6a44" stroke-width="0.85"/>
<circle cx="527.1" cy="148.2" r="2.55" fill="#fff" stroke="#fb6a44" stroke-width="0.85"/>
<circle cx="534.5" cy="146.5" r="2.55" fill="#fff" stroke="#fb6a44" stroke-width="0.85"/>
<circle cx="541.9" cy="144.9" r="2.55" fill="#fff" stroke="#fb6a44" stroke-width="0.85"/>
<circle cx="549.2" cy="143.3" r="2.55" fill="#fff" stroke="#fb6a44" stroke-width="0.85"/>
<circle cx="556.6" cy="141.7" r="2.55" fill="#fff" stroke="#fb6a44" stroke-width="0.85"/>
<circle cx="564" cy="140.1" r="2.55" fill="#fff" stroke="#fb6a44" stroke-width="0.85"/>
<circle cx="571.4" cy="138.6" r="2.55" fill="#fff" stroke="#fb6a44" stroke-width="0.85"/>
<circle cx="578.8" cy="137" r="2.55" fill="#fff" stroke="#fb6a44" stroke-width="0.85"/>
<circle cx="586.1" cy="135.5" r="2.55" fill="#fff" stroke="#fb6a44" stroke-width="0.85"/>
<circle cx="593.5" cy="134" r="2.55" fill="#fff" stroke="#fb6a44" stroke-width="0.85"/>
<circle cx="600.9" cy="132.4" r="2.55" fill="#fff" stroke="#fb6a44" stroke-width="0.85"/>
<circle cx="608.3" cy="130.9" r="2.55" fill="#fff" stroke="#fb6a44" stroke-width="0.85"/>
<circle cx="615.7" cy="129.4" r="2.55" fill="#fff" stroke="#fb6a44" stroke-width="0.85"/>
<circle cx="623" cy="128" r="2.55" fill="#fff" stroke="#fb6a44" stroke-width="0.85"/>
<circle cx="630.4" cy="126.5" r="2.55" fill="#fff" stroke="#fb6a44" stroke-width="0.85"/>
<circle cx="637.8" cy="125" r="2.55" fill="#fff" stroke="#fb6a44" stroke-width="0.85"/>
<polyline points="350,211.4 357.4,202.4 364.7,196.6 372.1,192.2 379.5,188.5 386.9,185.2 394.3,182.3 401.6,179.6 409,177.1 416.4,174.7 423.8,172.5 431.2,170.3 438.5,168.2 445.9,166.2 453.3,164.2 460.7,162.3 468.1,160.4 475.4,158.6 482.8,156.8 490.2,155 497.6,153.3 505,151.6 512.3,149.9 519.7,148.2 527.1,146.6 534.5,145 541.9,143.3 549.2,141.8 556.6,140.2 564,138.6 571.4,137 578.8,135.5 586.1,134 593.5,132.4 600.9,130.9 608.3,129.4 615.7,127.9 623,126.5 630.4,125 637.8,123.5" fill="none" stroke="#fcab2b" stroke-width="1.3"/>
<circle cx="350" cy="211.4" r="2.55" fill="#fff" stroke="#fcab2b" stroke-width="0.85"/>
<circle cx="357.4" cy="202.4" r="2.55" fill="#fff" stroke="#fcab2b" stroke-width="0.85"/>
<circle cx="364.7" cy="196.6" r="2.55" fill="#fff" stroke="#fcab2b" stroke-width="0.85"/>
<circle cx="372.1" cy="192.2" r="2.55" fill="#fff" stroke="#fcab2b" stroke-width="0.85"/>
<circle cx="379.5" cy="188.5" r="2.55" fill="#fff" stroke="#fcab2b" stroke-width="0.85"/>
<circle cx="386.9" cy="185.2" r="2.55" fill="#fff" stroke="#fcab2b" stroke-width="0.85"/>
<circle cx="394.3" cy="182.3" r="2.55" fill="#fff" stroke="#fcab2b" stroke-width="0.85"/>
<circle cx="401.6" cy="179.6" r="2.55" fill="#fff" stroke="#fcab2b" stroke-width="0.85"/>
<circle cx="409" cy="177.1" r="2.55" fill="#fff" stroke="#fcab2b" stroke-width="0.85"/>
<circle cx="416.4" cy="174.7" r="2.55" fill="#fff" stroke="#fcab2b" stroke-width="0.85"/>
<circle cx="423.8" cy="172.5" r="2.55" fill="#fff" stroke="#fcab2b" stroke-width="0.85"/>
<circle cx="431.2" cy="170.3" r="2.55" fill="#fff" stroke="#fcab2b" stroke-width="0.85"/>
<circle cx="438.5" cy="168.2" r="2.55" fill="#fff" stroke="#fcab2b" stroke-width="0.85"/>
<circle cx="445.9" cy="166.2" r="2.55" fill="#fff" stroke="#fcab2b" stroke-width="0.85"/>
<circle cx="453.3" cy="164.2" r="2.55" fill="#fff" stroke="#fcab2b" stroke-width="0.85"/>
<circle cx="460.7" cy="162.3" r="2.55" fill="#fff" stroke="#fcab2b" stroke-width="0.85"/>
<circle cx="468.1" cy="160.4" r="2.55" fill="#fff" stroke="#fcab2b" stroke-width="0.85"/>
<circle cx="475.4" cy="158.6" r="2.55" fill="#fff" stroke="#fcab2b" stroke-width="0.85"/>
<circle cx="482.8" cy="156.8" r="2.55" fill="#fff" stroke="#fcab2b" stroke-width="0.85"/>
<circle cx="490.2" cy="155" r="2.55" fill="#fff" stroke="#fcab2b" stroke-width="0.85"/>
<circle cx="497.6" cy="153.3" r="2.55" fill="#fff" stroke="#fcab2b" stroke-width="0.85"/>
<circle cx="505" cy="151.6" r="2.55" fill="#fff" stroke="#fcab2b" stroke-width="0.85"/>
<circle cx="512.3" cy="149.9" r="2.55" fill="#fff" stroke="#fcab2b" stroke-width="0.85"/>
<circle cx="519.7" cy="148.2" r="2.55" fill="#fff" stroke="#fcab2b" stroke-width="0.85"/>
<circle cx="527.1" cy="146.6" r="2.55" fill="#fff" stroke="#fcab2b" stroke-width="0.85"/>
<circle cx="534.5" cy="145" r="2.55" fill="#fff" stroke="#fcab2b" stroke-width="0.85"/>
<circle cx="541.9" cy="143.3" r="2.55" fill="#fff" stroke="#fcab2b" stroke-width="0.85"/>
<circle cx="549.2" cy="141.8" r="2.55" fill="#fff" stroke="#fcab2b" stroke-width="0.85"/>
<circle cx="556.6" cy="140.2" r="2.55" fill="#fff" stroke="#fcab2b" stroke-width="0.85"/>
<circle cx="564" cy="138.6" r="2.55" fill="#fff" stroke="#fcab2b" stroke-width="0.85"/>
<circle cx="571.4" cy="137" r="2.55" fill="#fff" stroke="#fcab2b" stroke-width="0.85"/>
<circle cx="578.8" cy="135.5" r="2.55" fill="#fff" stroke="#fcab2b" stroke-width="0.85"/>
<circle cx="586.1" cy="134" r="2.55" fill="#fff" stroke="#fcab2b" stroke-width="0.85"/>
<circle cx="593.5" cy="132.4" r="2.55" fill="#fff" stroke="#fcab2b" stroke-width="0.85"/>
<circle cx="600.9" cy="130.9" r="2.55" fill="#fff" stroke="#fcab2b" stroke-width="0.85"/>
<circle cx="608.3" cy="129.4" r="2.55" fill="#fff" stroke="#fcab2b" stroke-width="0.85"/>
<circle cx="615.7" cy="127.9" r="2.55" fill="#fff" stroke="#fcab2b" stroke-width="0.85"/>
<circle cx="623" cy="126.5" r="2.55" fill="#fff" stroke="#fcab2b" stroke-width="0.85"/>
<circle cx="630.4" cy="125" r="2.55" fill="#fff" stroke="#fcab2b" stroke-width="0.85"/>
<circle cx="637.8" cy="123.5" r="2.55" fill="#fff" stroke="#fcab2b" stroke-width="0.85"/>
<polyline points="350,205.9 357.4,196.9 364.7,191.1 372.1,186.7 379.5,183 386.9,179.7 394.3,176.8 401.6,174.1 409,171.6 416.4,169.2 423.8,167 431.2,164.8 438.5,162.7 445.9,160.7 453.3,158.7 460.7,156.8 468.1,154.9 475.4,153.1 482.8,151.3 490.2,149.5 497.6,147.8 505,146.1 512.3,144.4 519.7,142.7 527.1,141.1 534.5,139.5 541.9,137.8 549.2,136.3 556.6,134.7 564,133.1 571.4,131.5 578.8,130 586.1,128.5 593.5,126.9 600.9,125.4 608.3,123.9 615.7,122.4 623,121 630.4,119.5 637.8,118" fill="none" stroke="#c8bd77" stroke-width="1.0"/>
<circle cx="350" cy="205.9" r="2.55" fill="#fff" stroke="#c8bd77" stroke-width="0.85"/>
<circle cx="357.4" cy="196.9" r="2.55" fill="#fff" stroke="#c8bd77" stroke-width="0.85"/>
<circle cx="364.7" cy="191.1" r="2.55" fill="#fff" stroke="#c8bd77" stroke-width="0.85"/>
<circle cx="372.1" cy="186.7" r="2.55" fill="#fff" stroke="#c8bd77" stroke-width="0.85"/>
<circle cx="379.5" cy="183" r="2.55" fill="#fff" stroke="#c8bd77" stroke-width="0.85"/>
<circle cx="386.9" cy="179.7" r="2.55" fill="#fff" stroke="#c8bd77" stroke-width="0.85"/>
<circle cx="394.3" cy="176.8" r="2.55" fill="#fff" stroke="#c8bd77" stroke-width="0.85"/>
<circle cx="401.6" cy="174.1" r="2.55" fill="#fff" stroke="#c8bd77" stroke-width="0.85"/>
<circle cx="409" cy="171.6" r="2.55" fill="#fff" stroke="#c8bd77" stroke-width="0.85"/>
<circle cx="416.4" cy="169.2" r="2.55" fill="#fff" stroke="#c8bd77" stroke-width="0.85"/>
<circle cx="423.8" cy="167" r="2.55" fill="#fff" stroke="#c8bd77" stroke-width="0.85"/>
<circle cx="431.2" cy="164.8" r="2.55" fill="#fff" stroke="#c8bd77" stroke-width="0.85"/>
<circle cx="438.5" cy="162.7" r="2.55" fill="#fff" stroke="#c8bd77" stroke-width="0.85"/>
<circle cx="445.9" cy="160.7" r="2.55" fill="#fff" stroke="#c8bd77" stroke-width="0.85"/>
<circle cx="453.3" cy="158.7" r="2.55" fill="#fff" stroke="#c8bd77" stroke-width="0.85"/>
<circle cx="460.7" cy="156.8" r="2.55" fill="#fff" stroke="#c8bd77" stroke-width="0.85"/>
<circle cx="468.1" cy="154.9" r="2.55" fill="#fff" stroke="#c8bd77" stroke-width="0.85"/>
<circle cx="475.4" cy="153.1" r="2.55" fill="#fff" stroke="#c8bd77" stroke-width="0.85"/>
<circle cx="482.8" cy="151.3" r="2.55" fill="#fff" stroke="#c8bd77" stroke-width="0.85"/>
<circle cx="490.2" cy="149.5" r="2.55" fill="#fff" stroke="#c8bd77" stroke-width="0.85"/>
<circle cx="497.6" cy="147.8" r="2.55" fill="#fff" stroke="#c8bd77" stroke-width="0.85"/>
<circle cx="505" cy="146.1" r="2.55" fill="#fff" stroke="#c8bd77" stroke-width="0.85"/>
<circle cx="512.3" cy="144.4" r="2.55" fill="#fff" stroke="#c8bd77" stroke-width="0.85"/>
<circle cx="519.7" cy="142.7" r="2.55" fill="#fff" stroke="#c8bd77" stroke-width="0.85"/>
<circle cx="527.1" cy="141.1" r="2.55" fill="#fff" stroke="#c8bd77" stroke-width="0.85"/>
<circle cx="534.5" cy="139.5" r="2.55" fill="#fff" stroke="#c8bd77" stroke-width="0.85"/>
<circle cx="541.9" cy="137.8" r="2.55" fill="#fff" stroke="#c8bd77" stroke-width="0.85"/>
<circle cx="549.2" cy="136.3" r="2.55" fill="#fff" stroke="#c8bd77" stroke-width="0.85"/>
<circle cx="556.6" cy="134.7" r="2.55" fill="#fff" stroke="#c8bd77" stroke-width="0.85"/>
<circle cx="564" cy="133.1" r="2.55" fill="#fff" stroke="#c8bd77" stroke-width="0.85"/>
<circle cx="571.4" cy="131.5" r="2.55" fill="#fff" stroke="#c8bd77" stroke-width="0.85"/>
<circle cx="578.8" cy="130" r="2.55" fill="#fff" stroke="#c8bd77" stroke-width="0.85"/>
<circle cx="586.1" cy="128.5" r="2.55" fill="#fff" stroke="#c8bd77" stroke-width="0.85"/>
<circle cx="593.5" cy="126.9" r="2.55" fill="#fff" stroke="#c8bd77" stroke-width="0.85"/>
<circle cx="600.9" cy="125.4" r="2.55" fill="#fff" stroke="#c8bd77" stroke-width="0.85"/>
<circle cx="608.3" cy="123.9" r="2.55" fill="#fff" stroke="#c8bd77" stroke-width="0.85"/>
<circle cx="615.7" cy="122.4" r="2.55" fill="#fff" stroke="#c8bd77" stroke-width="0.85"/>
<circle cx="623" cy="121" r="2.55" fill="#fff" stroke="#c8bd77" stroke-width="0.85"/>
<circle cx="630.4" cy="119.5" r="2.55" fill="#fff" stroke="#c8bd77" stroke-width="0.85"/>
<circle cx="637.8" cy="118" r="2.55" fill="#fff" stroke="#c8bd77" stroke-width="0.85"/>
<polyline points="350,208.9 357.4,199.9 364.7,194.1 372.1,189.7 379.5,186 386.9,182.7 394.3,179.8 401.6,177.1 409,174.6 416.4,172.2 423.8,170 431.2,167.8 438.5,165.7 445.9,163.7 453.3,161.7 460.7,159.8 468.1,157.9 475.4,156.1 482.8,154.3 490.2,152.5 497.6,150.8 505,149.1 512.3,147.4 519.7,145.7 527.1,144.1 534.5,142.5 541.9,140.8 549.2,139.3 556.6,137.7 564,136.1 571.4,134.5 578.8,133 586.1,131.5 593.5,129.9 600.9,128.4 608.3,126.9 615.7,125.4 623,124 630.4,122.5 637.8,121" fill="none" stroke="#fbb25f" stroke-width="1.1"/>
<circle cx="350" cy="208.9" r="2.55" fill="#fff" stroke="#fbb25f" stroke-width="0.85"/>
<circle cx="357.4" cy="199.9" r="2.55" fill="#fff" stroke="#fbb25f" stroke-width="0.85"/>
<circle cx="364.7" cy="194.1" r="2.55" fill="#fff" stroke="#fbb25f" stroke-width="0.85"/>
<circle cx="372.1" cy="189.7" r="2.55" fill="#fff" stroke="#fbb25f" stroke-width="0.85"/>
<circle cx="379.5" cy="186" r="2.55" fill="#fff" stroke="#fbb25f" stroke-width="0.85"/>
<circle cx="386.9" cy="182.7" r="2.55" fill="#fff" stroke="#fbb25f" stroke-width="0.85"/>
<circle cx="394.3" cy="179.8" r="2.55" fill="#fff" stroke="#fbb25f" stroke-width="0.85"/>
<circle cx="401.6" cy="177.1" r="2.55" fill="#fff" stroke="#fbb25f" stroke-width="0.85"/>
<circle cx="409" cy="174.6" r="2.55" fill="#fff" stroke="#fbb25f" stroke-width="0.85"/>
<circle cx="416.4" cy="172.2" r="2.55" fill="#fff" stroke="#fbb25f" stroke-width="0.85"/>
<circle cx="423.8" cy="170" r="2.55" fill="#fff" stroke="#fbb25f" stroke-width="0.85"/>
<circle cx="431.2" cy="167.8" r="2.55" fill="#fff" stroke="#fbb25f" stroke-width="0.85"/>
<circle cx="438.5" cy="165.7" r="2.55" fill="#fff" stroke="#fbb25f" stroke-width="0.85"/>
<circle cx="445.9" cy="163.7" r="2.55" fill="#fff" stroke="#fbb25f" stroke-width="0.85"/>
<circle cx="453.3" cy="161.7" r="2.55" fill="#fff" stroke="#fbb25f" stroke-width="0.85"/>
<circle cx="460.7" cy="159.8" r="2.55" fill="#fff" stroke="#fbb25f" stroke-width="0.85"/>
<circle cx="468.1" cy="157.9" r="2.55" fill="#fff" stroke="#fbb25f" stroke-width="0.85"/>
<circle cx="475.4" cy="156.1" r="2.55" fill="#fff" stroke="#fbb25f" stroke-width="0.85"/>
<circle cx="482.8" cy="154.3" r="2.55" fill="#fff" stroke="#fbb25f" stroke-width="0.85"/>
<circle cx="490.2" cy="152.5" r="2.55" fill="#fff" stroke="#fbb25f" stroke-width="0.85"/>
<circle cx="497.6" cy="150.8" r="2.55" fill="#fff" stroke="#fbb25f" stroke-width="0.85"/>
<circle cx="505" cy="149.1" r="2.55" fill="#fff" stroke="#fbb25f" stroke-width="0.85"/>
<circle cx="512.3" cy="147.4" r="2.55" fill="#fff" stroke="#fbb25f" stroke-width="0.85"/>
<circle cx="519.7" cy="145.7" r="2.55" fill="#fff" stroke="#fbb25f" stroke-width="0.85"/>
<circle cx="527.1" cy="144.1" r="2.55" fill="#fff" stroke="#fbb25f" stroke-width="0.85"/>
<circle cx="534.5" cy="142.5" r="2.55" fill="#fff" stroke="#fbb25f" stroke-width="0.85"/>
<circle cx="541.9" cy="140.8" r="2.55" fill="#fff" stroke="#fbb25f" stroke-width="0.85"/>
<circle cx="549.2" cy="139.3" r="2.55" fill="#fff" stroke="#fbb25f" stroke-width="0.85"/>
<circle cx="556.6" cy="137.7" r="2.55" fill="#fff" stroke="#fbb25f" stroke-width="0.85"/>
<circle cx="564" cy="136.1" r="2.55" fill="#fff" stroke="#fbb25f" stroke-width="0.85"/>
<circle cx="571.4" cy="134.5" r="2.55" fill="#fff" stroke="#fbb25f" stroke-width="0.85"/>
<circle cx="578.8" cy="133" r="2.55" fill="#fff" stroke="#fbb25f" stroke-width="0.85"/>
<circle cx="586.1" cy="131.5" r="2.55" fill="#fff" stroke="#fbb25f" stroke-width="0.85"/>
<circle cx="593.5" cy="129.9" r="2.55" fill="#fff" stroke="#fbb25f" stroke-width="0.85"/>
<circle cx="600.9" cy="128.4" r="2.55" fill="#fff" stroke="#fbb25f" stroke-width="0.85"/>
<circle cx="608.3" cy="126.9" r="2.55" fill="#fff" stroke="#fbb25f" stroke-width="0.85"/>
<circle cx="615.7" cy="125.4" r="2.55" fill="#fff" stroke="#fbb25f" stroke-width="0.85"/>
<circle cx="623" cy="124" r="2.55" fill="#fff" stroke="#fbb25f" stroke-width="0.85"/>
<circle cx="630.4" cy="122.5" r="2.55" fill="#fff" stroke="#fbb25f" stroke-width="0.85"/>
<circle cx="637.8" cy="121" r="2.55" fill="#fff" stroke="#fbb25f" stroke-width="0.85"/>
<polyline points="350,118.8 357.4,112 364.7,107.2 372.1,103.2 379.5,99.7 386.9,96.5 394.3,93.5 401.6,90.6 409,87.9 416.4,85.2 423.8,82.6 431.2,80.1 438.5,77.6 445.9,75.1 453.3,72.7 460.7,70.3 468.1,68 475.4,65.6 482.8,63.3 490.2,61 497.6,58.8 505,56.5 512.3,54.3 519.7,52.1 527.1,49.8 534.5,47.6 541.9,45.4 549.2,43.3 556.6,41.1 564,38.9 571.4,36.8 578.8,34.6 586.1,32.5 593.5,30.3 600.9,28.2 608.3,26.1 615.7,24 623,21.8 630.4,19.7 637.8,17.6" fill="none" stroke="#f39a55" stroke-width="1"/>
<polyline points="350,130.7 357.4,124.9 364.7,120.8 372.1,117.4 379.5,114.4 386.9,111.7 394.3,109.1 401.6,106.6 409,104.2 416.4,101.9 423.8,99.7 431.2,97.5 438.5,95.3 445.9,93.2 453.3,91.1 460.7,89.1 468.1,87 475.4,85 482.8,83 490.2,81 497.6,79.1 505,77.1 512.3,75.2 519.7,73.2 527.1,71.3 534.5,69.4 541.9,67.5 549.2,65.6 556.6,63.7 564,61.8 571.4,60 578.8,58.1 586.1,56.2 593.5,54.4 600.9,52.5 608.3,50.7 615.7,48.9 623,47 630.4,45.2 637.8,43.4" fill="none" stroke="#3e6fb3" stroke-width="1"/>
<circle cx="350" cy="118.8" r="2.8" fill="url(#sr)"/>
<circle cx="357.4" cy="112" r="2.8" fill="url(#sr)"/>
<circle cx="364.7" cy="107.2" r="2.8" fill="url(#sr)"/>
<circle cx="372.1" cy="103.2" r="2.8" fill="url(#sr)"/>
<circle cx="379.5" cy="99.7" r="2.8" fill="url(#sr)"/>
<circle cx="386.9" cy="96.5" r="2.8" fill="url(#sr)"/>
<circle cx="394.3" cy="93.5" r="2.8" fill="url(#sr)"/>
<circle cx="401.6" cy="90.6" r="2.8" fill="url(#sr)"/>
<circle cx="409" cy="87.9" r="2.8" fill="url(#sr)"/>
<circle cx="416.4" cy="85.2" r="2.8" fill="url(#sr)"/>
<circle cx="423.8" cy="82.6" r="2.8" fill="url(#sr)"/>
<circle cx="431.2" cy="80.1" r="2.8" fill="url(#sr)"/>
<circle cx="438.5" cy="77.6" r="2.8" fill="url(#sr)"/>
<circle cx="445.9" cy="75.1" r="2.8" fill="url(#sr)"/>
<circle cx="453.3" cy="72.7" r="2.8" fill="url(#sr)"/>
<circle cx="460.7" cy="70.3" r="2.8" fill="url(#sr)"/>
<circle cx="468.1" cy="68" r="2.8" fill="url(#sr)"/>
<circle cx="475.4" cy="65.6" r="2.8" fill="url(#sr)"/>
<circle cx="482.8" cy="63.3" r="2.8" fill="url(#sr)"/>
<circle cx="490.2" cy="61" r="2.8" fill="url(#sr)"/>
<circle cx="497.6" cy="58.8" r="2.8" fill="url(#sr)"/>
<circle cx="505" cy="56.5" r="2.8" fill="url(#sr)"/>
<circle cx="512.3" cy="54.3" r="2.8" fill="url(#sr)"/>
<circle cx="519.7" cy="52.1" r="2.8" fill="url(#sr)"/>
<circle cx="527.1" cy="49.8" r="2.8" fill="url(#sr)"/>
<circle cx="534.5" cy="47.6" r="2.8" fill="url(#sr)"/>
<circle cx="541.9" cy="45.4" r="2.8" fill="url(#sr)"/>
<circle cx="549.2" cy="43.3" r="2.8" fill="url(#sr)"/>
<circle cx="556.6" cy="41.1" r="2.8" fill="url(#sr)"/>
<circle cx="564" cy="38.9" r="2.8" fill="url(#sr)"/>
<circle cx="571.4" cy="36.8" r="2.8" fill="url(#sr)"/>
<circle cx="578.8" cy="34.6" r="2.8" fill="url(#sr)"/>
<circle cx="586.1" cy="32.5" r="2.8" fill="url(#sr)"/>
<circle cx="593.5" cy="30.3" r="2.8" fill="url(#sr)"/>
<circle cx="600.9" cy="28.2" r="2.8" fill="url(#sr)"/>
<circle cx="608.3" cy="26.1" r="2.8" fill="url(#sr)"/>
<circle cx="615.7" cy="24" r="2.8" fill="url(#sr)"/>
<circle cx="623" cy="21.8" r="2.8" fill="url(#sr)"/>
<circle cx="630.4" cy="19.7" r="2.8" fill="url(#sr)"/>
<circle cx="637.8" cy="17.6" r="2.8" fill="url(#sr)"/>
<circle cx="350" cy="130.7" r="2.8" fill="url(#sb)"/>
<circle cx="357.4" cy="124.9" r="2.8" fill="url(#sb)"/>
<circle cx="364.7" cy="120.8" r="2.8" fill="url(#sb)"/>
<circle cx="372.1" cy="117.4" r="2.8" fill="url(#sb)"/>
<circle cx="379.5" cy="114.4" r="2.8" fill="url(#sb)"/>
<circle cx="386.9" cy="111.7" r="2.8" fill="url(#sb)"/>
<circle cx="394.3" cy="109.1" r="2.8" fill="url(#sb)"/>
<circle cx="401.6" cy="106.6" r="2.8" fill="url(#sb)"/>
<circle cx="409" cy="104.2" r="2.8" fill="url(#sb)"/>
<circle cx="416.4" cy="101.9" r="2.8" fill="url(#sb)"/>
<circle cx="423.8" cy="99.7" r="2.8" fill="url(#sb)"/>
<circle cx="431.2" cy="97.5" r="2.8" fill="url(#sb)"/>
<circle cx="438.5" cy="95.3" r="2.8" fill="url(#sb)"/>
<circle cx="445.9" cy="93.2" r="2.8" fill="url(#sb)"/>
<circle cx="453.3" cy="91.1" r="2.8" fill="url(#sb)"/>
<circle cx="460.7" cy="89.1" r="2.8" fill="url(#sb)"/>
<circle cx="468.1" cy="87" r="2.8" fill="url(#sb)"/>
<circle cx="475.4" cy="85" r="2.8" fill="url(#sb)"/>
<circle cx="482.8" cy="83" r="2.8" fill="url(#sb)"/>
<circle cx="490.2" cy="81" r="2.8" fill="url(#sb)"/>
<circle cx="497.6" cy="79.1" r="2.8" fill="url(#sb)"/>
<circle cx="505" cy="77.1" r="2.8" fill="url(#sb)"/>
<circle cx="512.3" cy="75.2" r="2.8" fill="url(#sb)"/>
<circle cx="519.7" cy="73.2" r="2.8" fill="url(#sb)"/>
<circle cx="527.1" cy="71.3" r="2.8" fill="url(#sb)"/>
<circle cx="534.5" cy="69.4" r="2.8" fill="url(#sb)"/>
<circle cx="541.9" cy="67.5" r="2.8" fill="url(#sb)"/>
<circle cx="549.2" cy="65.6" r="2.8" fill="url(#sb)"/>
<circle cx="556.6" cy="63.7" r="2.8" fill="url(#sb)"/>
<circle cx="564" cy="61.8" r="2.8" fill="url(#sb)"/>
<circle cx="571.4" cy="60" r="2.8" fill="url(#sb)"/>
<circle cx="578.8" cy="58.1" r="2.8" fill="url(#sb)"/>
<circle cx="586.1" cy="56.2" r="2.8" fill="url(#sb)"/>
<circle cx="593.5" cy="54.4" r="2.8" fill="url(#sb)"/>
<circle cx="600.9" cy="52.5" r="2.8" fill="url(#sb)"/>
<circle cx="608.3" cy="50.7" r="2.8" fill="url(#sb)"/>
<circle cx="615.7" cy="48.9" r="2.8" fill="url(#sb)"/>
<circle cx="623" cy="47" r="2.8" fill="url(#sb)"/>
<circle cx="630.4" cy="45.2" r="2.8" fill="url(#sb)"/>
<circle cx="637.8" cy="43.4" r="2.8" fill="url(#sb)"/>
<rect x="342.6" y="1.5" width="302.69999999999993" height="241.8" fill="none" stroke="#333" stroke-width="1"/>
<line x1="338.6" y1="225.7" x2="342.6" y2="225.7" stroke="#333"/>
<text x="336.1" y="229.7" text-anchor="end" font-size="11" font-family="Liberation Sans, sans-serif" font-weight="bold" stroke="#000" stroke-width="0.22">9</text>
<line x1="338.6" y1="173.9" x2="342.6" y2="173.9" stroke="#333"/>
<text x="336.1" y="177.9" text-anchor="end" font-size="11" font-family="Liberation Sans, sans-serif" font-weight="bold" stroke="#000" stroke-width="0.22">12</text>
<line x1="338.6" y1="122.1" x2="342.6" y2="122.1" stroke="#333"/>
<text x="336.1" y="126.1" text-anchor="end" font-size="11" font-family="Liberation Sans, sans-serif" font-weight="bold" stroke="#000" stroke-width="0.22">15</text>
<line x1="338.6" y1="70.3" x2="342.6" y2="70.3" stroke="#333"/>
<text x="336.1" y="74.3" text-anchor="end" font-size="11" font-family="Liberation Sans, sans-serif" font-weight="bold" stroke="#000" stroke-width="0.22">18</text>
<line x1="338.6" y1="18.5" x2="342.6" y2="18.5" stroke="#333"/>
<text x="336.1" y="22.5" text-anchor="end" font-size="11" font-family="Liberation Sans, sans-serif" font-weight="bold" stroke="#000" stroke-width="0.22">21</text>
<line x1="340.1" y1="199.8" x2="342.6" y2="199.8" stroke="#333"/>
<line x1="340.1" y1="148" x2="342.6" y2="148" stroke="#333"/>
<line x1="340.1" y1="96.2" x2="342.6" y2="96.2" stroke="#333"/>
<line x1="340.1" y1="44.4" x2="342.6" y2="44.4" stroke="#333"/>
<line x1="645.3" y1="221.4" x2="649.3" y2="221.4" stroke="#333"/>
<text x="651.8" y="225.4" font-size="11" font-family="Liberation Sans, sans-serif" font-weight="bold" stroke="#000" stroke-width="0.22">1.5</text>
<line x1="645.3" y1="155.4" x2="649.3" y2="155.4" stroke="#333"/>
<text x="651.8" y="159.4" font-size="11" font-family="Liberation Sans, sans-serif" font-weight="bold" stroke="#000" stroke-width="0.22">1.8</text>
<line x1="645.3" y1="89.4" x2="649.3" y2="89.4" stroke="#333"/>
<text x="651.8" y="93.4" font-size="11" font-family="Liberation Sans, sans-serif" font-weight="bold" stroke="#000" stroke-width="0.22">2.1</text>
<line x1="645.3" y1="23.4" x2="649.3" y2="23.4" stroke="#333"/>
<text x="651.8" y="27.4" font-size="11" font-family="Liberation Sans, sans-serif" font-weight="bold" stroke="#000" stroke-width="0.22">2.4</text>
<line x1="645.3" y1="188.4" x2="647.8" y2="188.4" stroke="#333"/>
<line x1="645.3" y1="122.4" x2="647.8" y2="122.4" stroke="#333"/>
<line x1="645.3" y1="56.4" x2="647.8" y2="56.4" stroke="#333"/>
<line x1="342.6" y1="243.3" x2="342.6" y2="247.3" stroke="#333"/>
<text x="342.6" y="259.4" text-anchor="middle" font-size="11" font-family="Liberation Sans, sans-serif" font-weight="bold" stroke="#000" stroke-width="0.22">0</text>
<line x1="416.4" y1="243.3" x2="416.4" y2="247.3" stroke="#333"/>
<text x="416.4" y="259.4" text-anchor="middle" font-size="11" font-family="Liberation Sans, sans-serif" font-weight="bold" stroke="#000" stroke-width="0.22">0.5</text>
<line x1="490.2" y1="243.3" x2="490.2" y2="247.3" stroke="#333"/>
<text x="490.2" y="259.4" text-anchor="middle" font-size="11" font-family="Liberation Sans, sans-serif" font-weight="bold" stroke="#000" stroke-width="0.22">1.0</text>
<line x1="564" y1="243.3" x2="564" y2="247.3" stroke="#333"/>
<text x="564" y="259.4" text-anchor="middle" font-size="11" font-family="Liberation Sans, sans-serif" font-weight="bold" stroke="#000" stroke-width="0.22">1.5</text>
<line x1="637.8" y1="243.3" x2="637.8" y2="247.3" stroke="#333"/>
<text x="637.8" y="259.4" text-anchor="middle" font-size="11" font-family="Liberation Sans, sans-serif" font-weight="bold" stroke="#000" stroke-width="0.22">2.0</text>
<line x1="379.5" y1="243.3" x2="379.5" y2="245.8" stroke="#333"/>
<line x1="453.3" y1="243.3" x2="453.3" y2="245.8" stroke="#333"/>
<line x1="527.1" y1="243.3" x2="527.1" y2="245.8" stroke="#333"/>
<line x1="600.9" y1="243.3" x2="600.9" y2="245.8" stroke="#333"/>
<text x="493.5" y="276" text-anchor="middle" font-size="11.35" font-family="Liberation Sans, sans-serif" font-weight="bold" stroke="#000" stroke-width="0.22">Current density (A cm<tspan dy="-4" font-size="7.5">-2</tspan><tspan dy="4">)</tspan></text>
<text transform="translate(316,122.5) rotate(-90)" text-anchor="middle" font-size="11.4" font-family="Liberation Sans, sans-serif" font-weight="bold" stroke="#000" stroke-width="0.22">Stack voltage (V)</text>
<text transform="translate(684,122.7) rotate(-90)" text-anchor="middle" font-size="11.3" font-family="Liberation Sans, sans-serif" font-weight="bold" stroke="#000" stroke-width="0.22">Cell voltage (V)</text>
<text x="365.3" y="48.9" font-size="11.2" font-family="Liberation Sans, sans-serif" font-weight="bold" stroke="#000" stroke-width="0.22">Locally alkaline AEM stack</text>
<line x1="361.6" y1="44.4" x2="349.4" y2="44.4" stroke="#555" stroke-width="0.8" marker-end="url(#ah)"/>
<text x="364.9" y="141.7" font-size="11.2" font-family="Liberation Sans, sans-serif" font-weight="bold" stroke="#000" stroke-width="0.22">PEM stack</text>
<line x1="361" y1="137.8" x2="349" y2="137.8" stroke="#999" stroke-width="0.9" marker-end="url(#ah)"/>
<text x="626.5" y="160" text-anchor="end" font-size="11.2" font-family="Liberation Sans, sans-serif" font-weight="bold" stroke="#000" stroke-width="0.22">Single cell</text>
<line x1="628.5" y1="156" x2="638" y2="156" stroke="#555" stroke-width="0.8" marker-end="url(#ah)"/>
<line x1="520.2" y1="178.6" x2="541.7" y2="178.6" stroke="#fc9c80" stroke-width="1.6"/>
<circle cx="530.9" cy="178.6" r="2.4" fill="#fff" stroke="#fc9c80" stroke-width="1"/>
<text x="544.3" y="182.2" font-size="10" font-family="Liberation Sans, sans-serif" font-weight="bold" stroke="#000" stroke-width="0.22">Cell-1</text>
<line x1="576.8" y1="178.6" x2="597.9" y2="178.6" stroke="#fdc659" stroke-width="1.3"/>
<circle cx="587.1" cy="178.6" r="2.4" fill="#fff" stroke="#fdc659" stroke-width="1"/>
<text x="600.5" y="182.2" font-size="10" font-family="Liberation Sans, sans-serif" font-weight="bold" stroke="#000" stroke-width="0.22">Cell-2</text>
<line x1="520.2" y1="191.1" x2="541.7" y2="191.1" stroke="#d4cf6b" stroke-width="1.0"/>
<circle cx="530.9" cy="191.1" r="2.4" fill="#fff" stroke="#d4cf6b" stroke-width="1"/>
<text x="544.3" y="194.7" font-size="10" font-family="Liberation Sans, sans-serif" font-weight="bold" stroke="#000" stroke-width="0.22">Cell-3</text>
<line x1="576.8" y1="191.1" x2="597.9" y2="191.1" stroke="#f5ab8c" stroke-width="1.0"/>
<circle cx="587.1" cy="191.1" r="2.4" fill="#fff" stroke="#f5ab8c" stroke-width="1"/>
<text x="600.5" y="194.7" font-size="10" font-family="Liberation Sans, sans-serif" font-weight="bold" stroke="#000" stroke-width="0.22">Cell-4</text>
<line x1="520.2" y1="203.7" x2="541.7" y2="203.7" stroke="#fdd89d" stroke-width="1.1"/>
<circle cx="530.9" cy="203.7" r="2.4" fill="#fff" stroke="#fdd89d" stroke-width="1"/>
<text x="544.3" y="207.3" font-size="10" font-family="Liberation Sans, sans-serif" font-weight="bold" stroke="#000" stroke-width="0.22">Cell-5</text>
<line x1="576.8" y1="203.7" x2="597.9" y2="203.7" stroke="#dfe4a6" stroke-width="1.1"/>
<circle cx="587.1" cy="203.7" r="2.4" fill="#fff" stroke="#dfe4a6" stroke-width="1"/>
<text x="600.5" y="207.3" font-size="10" font-family="Liberation Sans, sans-serif" font-weight="bold" stroke="#000" stroke-width="0.22">Cell-6</text>
<line x1="520.2" y1="216" x2="541.7" y2="216" stroke="#fb6a44" stroke-width="1.5"/>
<circle cx="530.9" cy="216" r="2.4" fill="#fff" stroke="#fb6a44" stroke-width="1"/>
<text x="544.3" y="219.6" font-size="10" font-family="Liberation Sans, sans-serif" font-weight="bold" stroke="#000" stroke-width="0.22">Cell-7</text>
<line x1="576.8" y1="216" x2="597.9" y2="216" stroke="#fcab2b" stroke-width="1.3"/>
<circle cx="587.1" cy="216" r="2.4" fill="#fff" stroke="#fcab2b" stroke-width="1"/>
<text x="600.5" y="219.6" font-size="10" font-family="Liberation Sans, sans-serif" font-weight="bold" stroke="#000" stroke-width="0.22">Cell-8</text>
<line x1="520.2" y1="228.2" x2="541.7" y2="228.2" stroke="#c8bd77" stroke-width="1.0"/>
<circle cx="530.9" cy="228.2" r="2.4" fill="#fff" stroke="#c8bd77" stroke-width="1"/>
<text x="544.3" y="231.8" font-size="10" font-family="Liberation Sans, sans-serif" font-weight="bold" stroke="#000" stroke-width="0.22">Cell-9</text>
<line x1="576.8" y1="228.2" x2="597.9" y2="228.2" stroke="#fbb25f" stroke-width="1.1"/>
<circle cx="587.1" cy="228.2" r="2.4" fill="#fff" stroke="#fbb25f" stroke-width="1"/>
<text x="600.5" y="231.8" font-size="10" font-family="Liberation Sans, sans-serif" font-weight="bold" stroke="#000" stroke-width="0.22">Cell-10</text>
<text x="307.5" y="9.9" font-size="14" font-family="Liberation Sans, sans-serif" font-weight="bold" stroke="#000" stroke-width="0.22">b</text>
<text x="19.3" y="9.2" font-size="14" font-family="Liberation Sans, sans-serif" font-weight="bold" stroke="#000" stroke-width="0.22">a</text>
<rect x="42.5" y="289" width="602.0" height="202.8" fill="url(#gc)"/>
<path d="M42.5,348.3 Q200,349.1 345,349.4 L642.6,349.8" fill="none" stroke="#d8403b" stroke-width="2.3"/>
<path d="M42.9,433.6 L43.4,438.3 L44,437.7 L47,436.2 L50,435.9 L53,435.4 L56,435.4 L59,435.2 L62,435 L65,434.7 L68,434.6 L71,434.3 L74,434 L77,434.1 L80,433.9 L83,433.8 L86,433.3 L89,433 L92,432.8 L95,432.4 L98,432.6 L101,432.1 L104,431.9 L107,431.8 L110,431.9 L113,431.5 L116,431.1 L119,431 L122,431 L125,430.6 L128,430.4 L131,430.2 L134,430.2 L137,430.2 L140,429.5 L143,429.4 L146,429.2 L149,428.7 L152,428.8 L155,428.6 L158,428.7 L161,428.4 L164,428 L167,428.2 L170,427.9 L173,427.5 L176,427.5 L179,427.4 L182,427.2 L185,427.2 L188,426.7 L191,426.8 L194,426.8 L197,426.7 L200,426.5 L203,426.4 L206,426.3 L209,425.8 L212,425.9 L215,425.3 L218,425.4 L221,425.2 L224,425.5 L227,425.5 L230,425.2 L233,425.4 L236,425 L239,425 L242,424.8 L245,424.5 L248,424.6 L251,424.6 L254,424 L257,424.1 L260,423.8 L263,424 L266,423.6 L269,423.5 L272,423.3 L275,423.1 L278,422.7 L281,422.9 L284,422.4 L287,422.4 L290,422.3 L293,422 L296,421.9 L299,422 L302,421.7 L305,421.4 L308,421 L311,421.2 L314,421.2 L317,421.1 L320,420.9 L323,421 L326,420.8 L329,420.7 L332,420.8 L335,420.4 L338,420.4 L341,420.7 L344,420.4 L347,419.9 L350,420 L353,420 L356,420 L359,419.8 L362,419.6 L365,419.6 L368,419.7 L371,419.6 L374,419.5 L377,419.5 L380,419.4 L383,419.5 L386,419.2 L389,419.4 L392,419.4 L395,419.3 L398,419 L401,419.3 L404,419 L407,419.1 L410,418.9 L413,418.7 L416,418.9 L419,418.9 L422,418.8 L425,418.9 L428,418.7 L431,418.7 L434,418.7 L437,419 L440,418.8 L443,418.6 L446,418.8 L449,418.6 L452,418.6 L455,418.8 L458,418.6 L461,418.4 L464,418.5 L467,418.7 L470,418.7 L473,418.8 L476,418.5 L479,418.7 L482,418.7 L485,418.6 L488,418.7 L491,418.7 L494,418.5 L497,418.8 L500,418.4 L503,418.6 L506,418.6 L509,418.7 L512,418.5 L515,418.6 L518,418.6 L521,418.7 L524,418.5 L527,418.6 L530,418.5 L533,418.4 L536,419 L539,418.5 L542,418.3 L545,418.8 L548,418.4 L551,418.6 L554,418.7 L557,418.4 L560,418.5 L563,418.4 L566,418.5 L569,418.3 L572,418.3 L575,418.5 L578,418.7 L581,418.6 L584,418.7 L587,418.5 L590,418.3 L593,418.4 L596,418.1 L599,418.2 L602,418.2 L605,418.3 L608,418.4 L611,418.2 L614,418.1 L617,418 L620,418.2 L623,418.2 L626,418.2 L629,418 L632,418.4 L635,418.2 L638,418 L641,417.9" fill="none" stroke="#fb8b8f" stroke-width="2.3" stroke-linejoin="round"/>
<rect x="42.5" y="289" width="602.0" height="202.8" fill="none" stroke="#333" stroke-width="1"/>
<line x1="38.5" y1="458.1" x2="42.5" y2="458.1" stroke="#333"/>
<text x="36.0" y="462.1" text-anchor="end" font-size="11" font-family="Liberation Sans, sans-serif" font-weight="bold" stroke="#000" stroke-width="0.22">18.4</text>
<line x1="38.5" y1="390.1" x2="42.5" y2="390.1" stroke="#333"/>
<text x="36.0" y="394.1" text-anchor="end" font-size="11" font-family="Liberation Sans, sans-serif" font-weight="bold" stroke="#000" stroke-width="0.22">18.6</text>
<line x1="38.5" y1="322.2" x2="42.5" y2="322.2" stroke="#333"/>
<text x="36.0" y="326.2" text-anchor="end" font-size="11" font-family="Liberation Sans, sans-serif" font-weight="bold" stroke="#000" stroke-width="0.22">18.8</text>
<line x1="40.0" y1="492.1" x2="42.5" y2="492.1" stroke="#333"/>
<line x1="40.0" y1="424.1" x2="42.5" y2="424.1" stroke="#333"/>
<line x1="40.0" y1="356.2" x2="42.5" y2="356.2" stroke="#333"/>
<line x1="644.5" y1="491.8" x2="648.5" y2="491.8" stroke="#333"/>
<text x="651.0" y="495.8" font-size="11" font-family="Liberation Sans, sans-serif" font-weight="bold" stroke="#000" stroke-width="0.22">50</text>
<line x1="644.5" y1="433.9" x2="648.5" y2="433.9" stroke="#333"/>
<text x="651.0" y="437.9" font-size="11" font-family="Liberation Sans, sans-serif" font-weight="bold" stroke="#000" stroke-width="0.22">60</text>
<line x1="644.5" y1="375.9" x2="648.5" y2="375.9" stroke="#333"/>
<text x="651.0" y="379.9" font-size="11" font-family="Liberation Sans, sans-serif" font-weight="bold" stroke="#000" stroke-width="0.22">70</text>
<line x1="644.5" y1="317.9" x2="648.5" y2="317.9" stroke="#333"/>
<text x="651.0" y="321.9" font-size="11" font-family="Liberation Sans, sans-serif" font-weight="bold" stroke="#000" stroke-width="0.22">80</text>
<line x1="644.5" y1="462.9" x2="647.0" y2="462.9" stroke="#333"/>
<line x1="644.5" y1="404.9" x2="647.0" y2="404.9" stroke="#333"/>
<line x1="644.5" y1="346.9" x2="647.0" y2="346.9" stroke="#333"/>
<line x1="42.5" y1="491.8" x2="42.5" y2="495.8" stroke="#333"/>
<text x="42.5" y="508" text-anchor="middle" font-size="11" font-family="Liberation Sans, sans-serif" font-weight="bold" stroke="#000" stroke-width="0.22">0</text>
<line x1="159" y1="491.8" x2="159" y2="495.8" stroke="#333"/>
<text x="159" y="508" text-anchor="middle" font-size="11" font-family="Liberation Sans, sans-serif" font-weight="bold" stroke="#000" stroke-width="0.22">100</text>
<line x1="275.5" y1="491.8" x2="275.5" y2="495.8" stroke="#333"/>
<text x="275.5" y="508" text-anchor="middle" font-size="11" font-family="Liberation Sans, sans-serif" font-weight="bold" stroke="#000" stroke-width="0.22">200</text>
<line x1="392" y1="491.8" x2="392" y2="495.8" stroke="#333"/>
<text x="392" y="508" text-anchor="middle" font-size="11" font-family="Liberation Sans, sans-serif" font-weight="bold" stroke="#000" stroke-width="0.22">300</text>
<line x1="508.5" y1="491.8" x2="508.5" y2="495.8" stroke="#333"/>
<text x="508.5" y="508" text-anchor="middle" font-size="11" font-family="Liberation Sans, sans-serif" font-weight="bold" stroke="#000" stroke-width="0.22">400</text>
<line x1="625" y1="491.8" x2="625" y2="495.8" stroke="#333"/>
<text x="625" y="508" text-anchor="middle" font-size="11" font-family="Liberation Sans, sans-serif" font-weight="bold" stroke="#000" stroke-width="0.22">500</text>
<line x1="100.8" y1="491.8" x2="100.8" y2="494.3" stroke="#333"/>
<line x1="217.2" y1="491.8" x2="217.2" y2="494.3" stroke="#333"/>
<line x1="333.8" y1="491.8" x2="333.8" y2="494.3" stroke="#333"/>
<line x1="450.2" y1="491.8" x2="450.2" y2="494.3" stroke="#333"/>
<line x1="566.8" y1="491.8" x2="566.8" y2="494.3" stroke="#333"/>
<text x="334.7" y="515.5" text-anchor="middle" font-size="11.2" font-family="Liberation Sans, sans-serif" font-weight="bold" stroke="#000" stroke-width="0.22">Time (h)</text>
<text transform="translate(8.3,389.5) rotate(-90)" text-anchor="middle" font-size="11.4" font-family="Liberation Sans, sans-serif" font-weight="bold" stroke="#000" stroke-width="0.22">Stack voltage (V)</text>
<text transform="translate(678.2,388.6) rotate(-90)" text-anchor="middle" font-size="11.65" font-family="Liberation Sans, sans-serif" font-weight="bold" stroke="#000" stroke-width="0.22">Energy conversion efficiency (%)</text>
<text x="49.1" y="304.2" font-size="11.15" font-family="Liberation Sans, sans-serif" font-weight="bold" stroke="#000" stroke-width="0.22">Locally alkaline AEM stack</text>
<text x="49.1" y="320.6" font-size="11" font-family="Liberation Sans, sans-serif" font-weight="bold" stroke="#000" stroke-width="0.22">Sustainion, 60 °C</text>
<text x="49.1" y="337" font-size="11" font-family="Liberation Sans, sans-serif" font-weight="bold" stroke="#000" stroke-width="0.22">Electrode area: 250 cm<tspan dy="-4.5" font-size="7.5">2</tspan></text>
<text x="-0.3" y="292.5" font-size="14" font-family="Liberation Sans, sans-serif" font-weight="bold" stroke="#000" stroke-width="0.22">c</text>
<path d="M55.5,434.8 L55.5,430.4 L44.1,430.4" fill="none" stroke="#777" stroke-width="0.7" marker-end="url(#ah)"/>
<path d="M627.5,348.6 L627.5,341.5 L641.8,341.5" fill="none" stroke="#808080" stroke-width="0.75" marker-end="url(#ah)"/>
</svg>
</body></html>
